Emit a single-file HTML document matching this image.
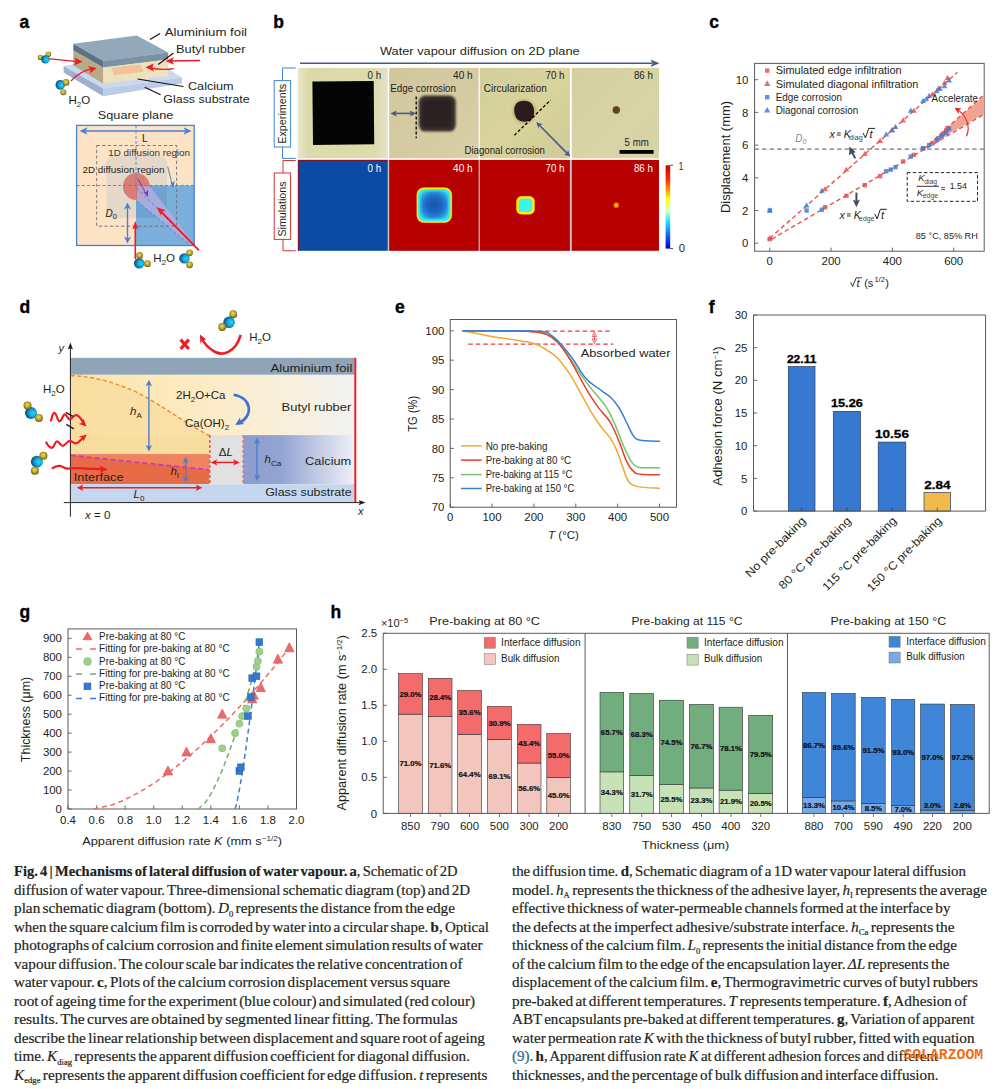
<!DOCTYPE html>
<html><head><meta charset="utf-8"><title>Fig. 4</title>
<style>html,body{margin:0;padding:0;background:#fff;overflow:hidden;width:1004px;height:1089px;} svg{display:block;} text{font-family:"Liberation Sans", sans-serif;}</style>
</head><body>
<svg width="1004" height="1089" viewBox="0 0 1004 1089">
<rect width="1004" height="1089" fill="#fff"/>
<defs>
<radialGradient id="gblue" cx="0.6" cy="0.5" r="0.62" fx="0.68" fy="0.52"><stop offset="0" stop-color="#20d8ff"/><stop offset="0.45" stop-color="#18a8e0"/><stop offset="1" stop-color="#0a3f6a"/></radialGradient>
<radialGradient id="gyel" cx="0.5" cy="0.45" r="0.62" fx="0.45" fy="0.38"><stop offset="0" stop-color="#ece060"/><stop offset="0.5" stop-color="#b8a82a"/><stop offset="1" stop-color="#54480a"/></radialGradient>
<g id="mol"><circle cx="5.5" cy="-5.5" r="3.4" fill="url(#gyel)"/><circle cx="5.5" cy="5.5" r="3.4" fill="url(#gyel)"/><circle cx="0" cy="0" r="5.2" fill="url(#gblue)"/></g>
<linearGradient id="ph1" x1="0" y1="0" x2="1" y2="0"><stop offset="0" stop-color="#e6e5cc"/><stop offset="0.12" stop-color="#dcdaaa"/><stop offset="0.85" stop-color="#dedcae"/><stop offset="1" stop-color="#e4e2c4"/></linearGradient>
<linearGradient id="ph2" x1="0" y1="0" x2="1" y2="1"><stop offset="0" stop-color="#d2c69c"/><stop offset="1" stop-color="#d8cfa8"/></linearGradient>
<linearGradient id="ph3" x1="0" y1="0" x2="1" y2="1"><stop offset="0" stop-color="#d2cf9c"/><stop offset="0.5" stop-color="#d9d39c"/><stop offset="1" stop-color="#d0cc98"/></linearGradient>
<linearGradient id="ph4" x1="0" y1="0" x2="1" y2="1"><stop offset="0" stop-color="#d3cf9e"/><stop offset="0.6" stop-color="#d8d4a6"/><stop offset="1" stop-color="#d6d3a6"/></linearGradient>
<filter id="blur1" x="-30%" y="-30%" width="160%" height="160%"><feGaussianBlur stdDeviation="1.3"/></filter>
<filter id="blur05" x="-30%" y="-30%" width="160%" height="160%"><feGaussianBlur stdDeviation="0.6"/></filter>
<filter id="blur03" x="-30%" y="-30%" width="160%" height="160%"><feGaussianBlur stdDeviation="0.5"/></filter>
<radialGradient id="sq40" cx="0.5" cy="0.5" r="0.6"><stop offset="0" stop-color="#1656ac"/><stop offset="0.5" stop-color="#1f68c4"/><stop offset="0.8" stop-color="#2a8ee0"/><stop offset="1" stop-color="#30c8f0"/></radialGradient>
<radialGradient id="dot86" cx="0.5" cy="0.5" r="0.5"><stop offset="0" stop-color="#ffe000"/><stop offset="0.6" stop-color="#ff8a00"/><stop offset="1" stop-color="#d02000"/></radialGradient>
<linearGradient id="cbar" x1="0" y1="0" x2="0" y2="1"><stop offset="0" stop-color="#d00000"/><stop offset="0.18" stop-color="#ff3000"/><stop offset="0.3" stop-color="#ffa000"/><stop offset="0.4" stop-color="#ffff00"/><stop offset="0.55" stop-color="#d0ffd0"/><stop offset="0.68" stop-color="#20e0f0"/><stop offset="0.85" stop-color="#1060ff"/><stop offset="1" stop-color="#0000c0"/></linearGradient>
<linearGradient id="rubberg" x1="0" y1="0" x2="1" y2="0"><stop offset="0" stop-color="#fde4aa"/><stop offset="0.5" stop-color="#fcebc6"/><stop offset="0.78" stop-color="#f8f0de"/><stop offset="1" stop-color="#f2f2f2"/></linearGradient>
<linearGradient id="rubberg2" x1="0" y1="0" x2="1" y2="0"><stop offset="0" stop-color="#f8dc9e"/><stop offset="1" stop-color="#f8e0aa"/></linearGradient>
<linearGradient id="cag" x1="0" y1="0" x2="1" y2="0"><stop offset="0" stop-color="#8b9ccd"/><stop offset="0.35" stop-color="#95a5d2"/><stop offset="1" stop-color="#eef0f7"/></linearGradient>
</defs>
<text x="19.6" y="27.7" font-size="17.5" font-weight="bold" fill="#000" stroke="#000" stroke-width="0.35">a</text>
<polygon points="63.60,66.10 140.00,52.00 182.00,77.50 103.20,88.60" fill="#c9d9ef" stroke="none" stroke-width="1"/>
<polygon points="63.60,66.10 103.20,88.60 103.20,96.20 63.60,72.40" fill="#9fb0cf" stroke="none" stroke-width="1"/>
<polygon points="103.20,88.60 182.00,77.50 182.00,83.40 103.20,96.20" fill="#bccce7" stroke="none" stroke-width="1"/>
<polygon points="73.30,43.70 136.80,35.50 168.20,52.60 103.20,60.90" fill="#94a8bc" stroke="none" stroke-width="1"/>
<polygon points="73.30,43.70 103.20,60.90 103.20,67.60 73.30,50.40" fill="#5d7184" stroke="none" stroke-width="1"/>
<polygon points="103.20,60.90 168.20,52.60 168.20,59.50 103.20,67.60" fill="#7c91a4" stroke="none" stroke-width="1"/>
<polygon points="73.30,50.40 103.20,67.60 103.20,83.60 73.30,65.50" fill="#b6aa87" stroke="none" stroke-width="1"/>
<polygon points="103.20,67.60 168.20,59.50 168.20,76.20 103.20,83.60" fill="#ece2bd" stroke="none" stroke-width="1"/>
<polygon points="112.00,68.00 140.20,65.20 142.80,71.20 114.60,74.60" fill="#f2c398" stroke="#f2c398" stroke-width="1.2" stroke-linejoin="round"/>
<line x1="150.00" y1="39.40" x2="160.00" y2="33.40" stroke="#111" stroke-width="1.2"/>
<line x1="158.20" y1="64.50" x2="173.50" y2="52.90" stroke="#111" stroke-width="1.2"/>
<line x1="137.60" y1="79.00" x2="183.50" y2="86.50" stroke="#111" stroke-width="1.2"/>
<line x1="144.70" y1="87.20" x2="160.60" y2="94.70" stroke="#111" stroke-width="1.2"/>
<text x="164.8" y="36.4" font-size="11.5" fill="#231f20" textLength="82.2" lengthAdjust="spacingAndGlyphs">Aluminium foil</text>
<text x="176" y="52.6" font-size="11.5" fill="#231f20" textLength="69.5" lengthAdjust="spacingAndGlyphs">Butyl rubber</text>
<text x="188" y="90.2" font-size="11.5" fill="#231f20" textLength="45.6" lengthAdjust="spacingAndGlyphs">Calcium</text>
<text x="163.3" y="103" font-size="11.5" fill="#231f20" textLength="86.4" lengthAdjust="spacingAndGlyphs">Glass substrate</text>
<text x="68.5" y="104.2" font-size="11.5" fill="#231f20">H<tspan font-size="8" dy="3">2</tspan><tspan dy="-3">O</tspan></text>
<path d="M46,58.6 C58,59 66,61 80,61.8" fill="none" stroke="#ee1c25" stroke-width="1.3"/>
<polygon points="82.50,61.80 74.50,57.60 75.80,61.50 74.20,65.20" fill="#ee1c25" stroke="none" stroke-width="1"/>
<path d="M71,81 C77,74 84,70 93.5,68.6" fill="none" stroke="#ee1c25" stroke-width="1.3"/>
<polygon points="96.50,68.00 88.00,66.20 90.50,69.60 90.00,73.40" fill="#ee1c25" stroke="none" stroke-width="1"/>
<path d="M200,60.5 C190,60.6 180,60.8 168,61" fill="none" stroke="#ee1c25" stroke-width="1.3"/>
<polygon points="165.50,61.00 174.00,57.20 172.20,61.00 174.00,64.80" fill="#ee1c25" stroke="none" stroke-width="1"/>
<path d="M173.8,68.6 C165,70.2 157,69.5 148.5,67.5" fill="none" stroke="#ee1c25" stroke-width="1.3"/>
<polygon points="145.50,67.20 153.50,63.40 152.30,67.60 154.00,71.40" fill="#ee1c25" stroke="none" stroke-width="1"/>
<circle cx="40.40" cy="57.40" r="2.60" fill="url(#gyel)"/><circle cx="48.40" cy="54.30" r="2.80" fill="url(#gyel)"/><circle cx="45.40" cy="59.40" r="4.20" fill="url(#gblue)"/>
<circle cx="60.30" cy="84.90" r="4.80" fill="url(#gblue)"/><circle cx="66.10" cy="82.40" r="3.30" fill="url(#gyel)"/><circle cx="63.30" cy="92.20" r="3.00" fill="url(#gyel)"/>
<text x="97.8" y="119" font-size="11.5" fill="#231f20" textLength="75.5" lengthAdjust="spacingAndGlyphs">Square plane</text>
<rect x="76.60" y="125.40" width="117.60" height="120.10" fill="#fde3c6" stroke="none" stroke-width="1"/>
<rect x="136.00" y="185.50" width="58.20" height="60.00" fill="#7aafdc" stroke="none" stroke-width="1"/>
<clipPath id="grc"><rect x="106.3" y="155.7" width="60.7" height="62.2" rx="7.5"/></clipPath><rect x="106.3" y="155.7" width="60.7" height="62.2" rx="7.5" fill="#e5d8c8"/>
<rect x="136" y="185.5" width="60" height="60" fill="#70a3d2" clip-path="url(#grc)"/>
<circle cx="136.30" cy="186.50" r="13.40" fill="#d5716a" stroke="none" stroke-width="1" fill-opacity="0.88"/>
<polygon points="137.50,185.50 149.90,186.50 194.40,244.60 189.10,244.20 136.80,200.70" fill="#b4aee0" stroke="none" stroke-width="1" fill-opacity="0.8"/>
<line x1="137.50" y1="201.50" x2="189.10" y2="243.80" stroke="#4a7fd3" stroke-width="0.8" stroke-dasharray="3,2.2"/>
<line x1="76.60" y1="185.50" x2="194.20" y2="185.50" stroke="#4a7fd3" stroke-width="0.9" stroke-dasharray="3,2.2"/>
<line x1="136.00" y1="125.40" x2="136.00" y2="185.50" stroke="#4a7fd3" stroke-width="0.9" stroke-dasharray="3,2.2"/>
<line x1="137.00" y1="188.00" x2="192.00" y2="244.00" stroke="#4a7fd3" stroke-width="0.8" stroke-dasharray="3,2.2"/>
<rect x="96.70" y="145.50" width="79.90" height="80.70" fill="none" stroke="#6d6d6d" stroke-width="0.9" stroke-dasharray="3.2,2.4"/>
<rect x="76.60" y="125.40" width="117.60" height="120.10" fill="none" stroke="#4a7fd3" stroke-width="1.3"/>
<line x1="82.00" y1="131.00" x2="189.00" y2="131.00" stroke="#4a7fd3" stroke-width="1.4"/>
<polygon points="79.50,131.00 87.50,127.30 85.50,131.00 87.50,134.70" fill="#4a7fd3" stroke="none" stroke-width="1"/>
<polygon points="191.50,131.00 183.50,127.30 185.50,131.00 183.50,134.70" fill="#4a7fd3" stroke="none" stroke-width="1"/>
<text x="142" y="142.1" font-size="11.5" fill="#231f20" textLength="5.8" lengthAdjust="spacingAndGlyphs">L</text>
<text x="108.2" y="155.5" font-size="9.2" fill="#333" textLength="81.8" lengthAdjust="spacingAndGlyphs">1D diffusion region</text>
<text x="82.5" y="172.7" font-size="9.2" fill="#231f20" textLength="82" lengthAdjust="spacingAndGlyphs">2D diffusion region</text>
<line x1="167.70" y1="166.70" x2="172.30" y2="184.50" stroke="#3a78d0" stroke-width="0.9"/>
<polygon points="173.30,188.00 170.20,181.50 172.50,183.00 174.80,180.60" fill="#3a78d0" stroke="none" stroke-width="1"/>
<line x1="138.00" y1="178.80" x2="146.50" y2="194.50" stroke="#6a3fb5" stroke-width="1"/>
<polygon points="147.80,197.00 143.20,191.50 146.00,192.60 148.20,189.60" fill="#6a3fb5" stroke="none" stroke-width="1"/>
<text x="105.5" y="217.4" font-size="10" font-style="italic" fill="#231f20">D<tspan font-size="7.5" dy="2" font-style="normal">0</tspan></text>
<line x1="127.50" y1="205.50" x2="127.50" y2="240.50" stroke="#4a7fd3" stroke-width="1.4"/>
<polygon points="127.50,202.50 123.90,209.50 127.50,207.50 131.10,209.50" fill="#4a7fd3" stroke="none" stroke-width="1"/>
<polygon points="127.50,243.50 123.90,236.50 127.50,238.50 131.10,236.50" fill="#4a7fd3" stroke="none" stroke-width="1"/>
<line x1="135.30" y1="259.00" x2="135.30" y2="226.00" stroke="#ee1c25" stroke-width="1.6"/>
<polygon points="135.30,221.00 132.30,229.50 135.30,227.50 138.30,229.50" fill="#ee1c25" stroke="none" stroke-width="1"/>
<line x1="199.00" y1="250.30" x2="160.00" y2="210.50" stroke="#ee1c25" stroke-width="1.8"/>
<polygon points="156.80,207.20 165.70,210.30 161.70,211.50 160.80,215.60" fill="#ee1c25" stroke="none" stroke-width="1"/>
<text x="153.2" y="262.4" font-size="11.5" fill="#231f20">H<tspan font-size="8" dy="3">2</tspan><tspan dy="-3">O</tspan></text>
<circle cx="139.20" cy="263.30" r="5.20" fill="url(#gblue)"/><circle cx="139.60" cy="255.50" r="3.40" fill="url(#gyel)"/><circle cx="147.40" cy="263.70" r="3.40" fill="url(#gyel)"/>
<circle cx="184.40" cy="258.40" r="5.20" fill="url(#gblue)"/><circle cx="189.60" cy="252.80" r="3.40" fill="url(#gyel)"/><circle cx="189.60" cy="264.80" r="3.40" fill="url(#gyel)"/>
<text x="273.2" y="27.6" font-size="17.5" font-weight="bold" fill="#000" stroke="#000" stroke-width="0.35">b</text>
<text x="380" y="55" font-size="11.5" fill="#231f20" textLength="199.7" lengthAdjust="spacingAndGlyphs">Water vapour diffusion on 2D plane</text>
<line x1="300.00" y1="63.30" x2="652.00" y2="63.30" stroke="#4a5b82" stroke-width="1.6"/>
<polygon points="659.50,63.30 650.50,59.60 652.50,63.30 650.50,67.00" fill="#4a5b82" stroke="none" stroke-width="1"/>
<rect x="297.90" y="67.90" width="89.80" height="90.40" fill="url(#ph1)" stroke="none" stroke-width="1"/>
<rect x="389.20" y="67.90" width="89.40" height="90.40" fill="url(#ph2)" stroke="none" stroke-width="1"/>
<rect x="479.80" y="67.90" width="90.10" height="90.40" fill="url(#ph3)" stroke="none" stroke-width="1"/>
<rect x="571.80" y="67.90" width="87.20" height="90.40" fill="url(#ph4)" stroke="none" stroke-width="1"/>
<polygon points="312.40,81.40 373.70,81.00 374.20,144.20 313.00,145.10" fill="#050505" stroke="none" stroke-width="1"/>
<rect x="418.8" y="95.6" width="37" height="36" rx="6.5" fill="#3a302c" filter="url(#blur1)"/>
<rect x="422" y="99" width="30" height="29" rx="5" fill="#2c2420" filter="url(#blur1)"/>
<ellipse cx="524.3" cy="111.6" rx="12" ry="12.5" fill="#9a7a48" fill-opacity="0.35" filter="url(#blur1)"/>
<path d="M516,104 C519,100 527,100 531,103 C535,107 535,115 532,119 C528,123 520,122 517,119 C514,115 513,108 516,104 Z" fill="#2c1a1c" filter="url(#blur05)"/>
<circle cx="616.3" cy="110" r="3.7" fill="#5e4226" filter="url(#blur05)"/>
<text x="367.5" y="79" font-size="10.2" fill="#231f20" textLength="13.6" lengthAdjust="spacingAndGlyphs">0 h</text>
<text x="453" y="79" font-size="10.2" fill="#231f20" textLength="19.7" lengthAdjust="spacingAndGlyphs">40 h</text>
<text x="545.5" y="78.6" font-size="10.2" fill="#231f20" textLength="18.9" lengthAdjust="spacingAndGlyphs">70 h</text>
<text x="633.9" y="78.6" font-size="10.2" fill="#231f20" textLength="19" lengthAdjust="spacingAndGlyphs">86 h</text>
<text x="390.3" y="92.2" font-size="10.2" fill="#231f20" textLength="65.7" lengthAdjust="spacingAndGlyphs">Edge corrosion</text>
<text x="483.8" y="92.4" font-size="10.2" fill="#231f20" textLength="63.1" lengthAdjust="spacingAndGlyphs">Circularization</text>
<text x="464.5" y="153.8" font-size="10.2" fill="#231f20" textLength="80.5" lengthAdjust="spacingAndGlyphs">Diagonal corrosion</text>
<text x="624.6" y="146.1" font-size="10.2" fill="#231f20" textLength="24.1" lengthAdjust="spacingAndGlyphs">5 mm</text>
<rect x="619.60" y="150.00" width="34.00" height="3.80" fill="#000" stroke="none" stroke-width="1"/>
<line x1="416.20" y1="96.50" x2="416.20" y2="138.20" stroke="#000" stroke-width="1.3" stroke-dasharray="3,2"/>
<line x1="393.00" y1="113.40" x2="413.50" y2="113.40" stroke="#4a5b82" stroke-width="1.6"/>
<polygon points="390.30,113.40 396.80,110.40 395.30,113.40 396.80,116.40" fill="#4a5b82" stroke="none" stroke-width="1"/>
<polygon points="416.20,113.40 409.70,110.40 411.20,113.40 409.70,116.40" fill="#4a5b82" stroke="none" stroke-width="1"/>
<line x1="514.40" y1="135.20" x2="550.60" y2="100.10" stroke="#000" stroke-width="1.3" stroke-dasharray="3,2"/>
<line x1="538.20" y1="124.00" x2="568.40" y2="154.60" stroke="#4a5b82" stroke-width="1.6"/>
<polygon points="536.30,122.00 538.30,128.80 539.20,125.30 542.80,124.40" fill="#4a5b82" stroke="none" stroke-width="1"/>
<polygon points="570.30,156.60 563.50,154.60 567.00,153.70 568.00,150.10" fill="#4a5b82" stroke="none" stroke-width="1"/>
<rect x="387.00" y="159.90" width="186.00" height="90.90" fill="#c4c4c4" stroke="none" stroke-width="1"/>
<rect x="297.90" y="159.90" width="89.80" height="90.90" fill="#0b4ba6" stroke="none" stroke-width="1"/>
<path d="M298.4,250.8 V160.4 H387.7" fill="none" stroke="#8a1020" stroke-width="1"/>
<rect x="389.20" y="159.90" width="89.40" height="90.90" fill="#b70000" stroke="none" stroke-width="1"/>
<rect x="479.80" y="159.90" width="90.10" height="90.90" fill="#b70000" stroke="none" stroke-width="1"/>
<rect x="571.80" y="159.90" width="87.20" height="90.90" fill="#b70000" stroke="none" stroke-width="1"/>
<rect x="416.4" y="187.2" width="35.8" height="35.8" rx="7.5" fill="#ff7000" filter="url(#blur05)"/>
<rect x="416.9" y="187.7" width="34.8" height="34.8" rx="7" fill="#ffee00" filter="url(#blur03)"/>
<rect x="418.1" y="188.9" width="32.4" height="32.4" rx="6" fill="#38f4f0" filter="url(#blur03)"/>
<rect x="420.3" y="191.1" width="28" height="28" rx="5" fill="url(#sq40)" filter="url(#blur1)"/>
<rect x="516.2" y="196.1" width="18.6" height="18.5" rx="5.2" fill="#ff8000" filter="url(#blur03)"/>
<rect x="516.6" y="196.5" width="17.8" height="17.7" rx="5" fill="#fff000" filter="url(#blur03)"/>
<rect x="518.7" y="198.6" width="13.6" height="13.5" rx="3.6" fill="#40f2ee" filter="url(#blur03)"/>
<circle cx="616.3" cy="205.2" r="3.1" fill="url(#dot86)"/>
<text x="367.5" y="171.9" font-size="10.2" fill="#fff" textLength="13.6" lengthAdjust="spacingAndGlyphs">0 h</text>
<text x="453" y="171.9" font-size="10.2" fill="#fff" textLength="19.7" lengthAdjust="spacingAndGlyphs">40 h</text>
<text x="545.5" y="171.9" font-size="10.2" fill="#fff" textLength="18.9" lengthAdjust="spacingAndGlyphs">70 h</text>
<text x="633.9" y="171.9" font-size="10.2" fill="#fff" textLength="19" lengthAdjust="spacingAndGlyphs">86 h</text>
<rect x="665.60" y="165.30" width="4.60" height="83.30" fill="url(#cbar)" stroke="none" stroke-width="1"/>
<path d="M670.2,165.3 H673 M670.2,248.6 H673" fill="none" stroke="#231f20" stroke-width="0.8"/>
<text x="678.8" y="169.6" font-size="10.2" fill="#231f20" textLength="4.5" lengthAdjust="spacingAndGlyphs">1</text>
<text x="678.8" y="252.2" font-size="10.2" fill="#231f20" textLength="6.3" lengthAdjust="spacingAndGlyphs">0</text>
<path d="M295.7,68 H282.5 V158.4 H295.7" fill="none" stroke="#3b86d8" stroke-width="1"/>
<rect x="274.20" y="80.60" width="16.40" height="66.40" fill="#fff" stroke="#3b86d8" stroke-width="1"/>
<text transform="translate(286.3,113.8) rotate(-90)" font-size="10.2" text-anchor="middle" fill="#231f20" textLength="60" lengthAdjust="spacingAndGlyphs">Experiments</text>
<path d="M295.7,160.5 H283 V250.8 H295.7" fill="none" stroke="#d6333b" stroke-width="1"/>
<rect x="274.20" y="173.00" width="16.40" height="66.40" fill="#fff" stroke="#d6333b" stroke-width="1"/>
<text transform="translate(286.3,209) rotate(-90)" font-size="10.2" text-anchor="middle" fill="#231f20" textLength="55" lengthAdjust="spacingAndGlyphs">Simulations</text>
<text x="709.2" y="27.9" font-size="17.5" font-weight="bold" fill="#000" stroke="#000" stroke-width="0.35">c</text>
<rect x="754.60" y="63.40" width="229.60" height="187.80" fill="none" stroke="#5a5a5a" stroke-width="1"/>
<line x1="754.60" y1="243.20" x2="758.20" y2="243.20" stroke="#5a5a5a" stroke-width="0.9"/>
<text x="748.5" y="247.29999999999998" font-size="10.6" text-anchor="end" fill="#231f20" textLength="6.37" lengthAdjust="spacingAndGlyphs">0</text>
<line x1="754.60" y1="210.50" x2="758.20" y2="210.50" stroke="#5a5a5a" stroke-width="0.9"/>
<text x="748.5" y="214.6" font-size="10.6" text-anchor="end" fill="#231f20" textLength="6.37" lengthAdjust="spacingAndGlyphs">2</text>
<line x1="754.60" y1="177.80" x2="758.20" y2="177.80" stroke="#5a5a5a" stroke-width="0.9"/>
<text x="748.5" y="181.89999999999998" font-size="10.6" text-anchor="end" fill="#231f20" textLength="6.37" lengthAdjust="spacingAndGlyphs">4</text>
<line x1="754.60" y1="145.10" x2="758.20" y2="145.10" stroke="#5a5a5a" stroke-width="0.9"/>
<text x="748.5" y="149.19999999999996" font-size="10.6" text-anchor="end" fill="#231f20" textLength="6.37" lengthAdjust="spacingAndGlyphs">6</text>
<line x1="754.60" y1="112.40" x2="758.20" y2="112.40" stroke="#5a5a5a" stroke-width="0.9"/>
<text x="748.5" y="116.49999999999997" font-size="10.6" text-anchor="end" fill="#231f20" textLength="6.37" lengthAdjust="spacingAndGlyphs">8</text>
<line x1="754.60" y1="79.70" x2="758.20" y2="79.70" stroke="#5a5a5a" stroke-width="0.9"/>
<text x="748.5" y="83.79999999999998" font-size="10.6" text-anchor="end" fill="#231f20" textLength="12.73" lengthAdjust="spacingAndGlyphs">10</text>
<line x1="769.80" y1="251.20" x2="769.80" y2="247.60" stroke="#5a5a5a" stroke-width="0.9"/>
<text x="769.8" y="264.6" font-size="10.6" text-anchor="middle" fill="#231f20" textLength="6.37" lengthAdjust="spacingAndGlyphs">0</text>
<line x1="831.10" y1="251.20" x2="831.10" y2="247.60" stroke="#5a5a5a" stroke-width="0.9"/>
<text x="831.0999999999999" y="264.6" font-size="10.6" text-anchor="middle" fill="#231f20" textLength="19.1" lengthAdjust="spacingAndGlyphs">200</text>
<line x1="892.40" y1="251.20" x2="892.40" y2="247.60" stroke="#5a5a5a" stroke-width="0.9"/>
<text x="892.4" y="264.6" font-size="10.6" text-anchor="middle" fill="#231f20" textLength="19.1" lengthAdjust="spacingAndGlyphs">400</text>
<line x1="953.70" y1="251.20" x2="953.70" y2="247.60" stroke="#5a5a5a" stroke-width="0.9"/>
<text x="953.6999999999999" y="264.6" font-size="10.6" text-anchor="middle" fill="#231f20" textLength="19.1" lengthAdjust="spacingAndGlyphs">600</text>
<text transform="translate(729.5,157) rotate(-90)" font-size="12.5" text-anchor="middle" fill="#231f20" textLength="112" lengthAdjust="spacingAndGlyphs">Displacement (mm)</text>
<path d="M850.8,282.2 L852.6,286.6 L856.2,277.8 H862" fill="none" stroke="#231f20" stroke-width="0.9"/>
<text x="856.4" y="286.5" font-size="11" font-style="italic" fill="#231f20">t</text>
<text x="864.2" y="286.5" font-size="11" fill="#231f20">(s</text>
<text x="874.4" y="281.6" font-size="7.6" fill="#231f20">1/2</text>
<text x="885.2" y="286.5" font-size="11" fill="#231f20">)</text>
<line x1="754.60" y1="149.10" x2="984.20" y2="149.10" stroke="#777" stroke-width="1.1" stroke-dasharray="4.5,3"/>
<text x="795.2" y="142.3" font-size="10" font-style="italic" fill="#888">D<tspan font-size="7" dy="2">0</tspan></text>
<polygon points="925.00,147.20 984.20,95.50 984.20,113.80" fill="#f3a394" stroke="none" stroke-width="1"/>
<line x1="769.80" y1="238.29" x2="957.50" y2="72.20" stroke="#e8534f" stroke-width="1.4" stroke-dasharray="4.5,3"/>
<line x1="923.50" y1="149.20" x2="984.20" y2="94.50" stroke="#e8534f" stroke-width="1.4" stroke-dasharray="4.5,3"/>
<line x1="771.80" y1="239.11" x2="984.20" y2="114.20" stroke="#e8534f" stroke-width="1.4" stroke-dasharray="4.5,3"/>
<rect x="767.60" y="236.91" width="4.40" height="4.40" fill="#e8534f" stroke="none" stroke-width="1" fill-opacity="0.85"/>
<rect x="822.77" y="205.03" width="4.40" height="4.40" fill="#e8534f" stroke="none" stroke-width="1" fill-opacity="0.85"/>
<rect x="844.22" y="193.59" width="4.40" height="4.40" fill="#e8534f" stroke="none" stroke-width="1" fill-opacity="0.85"/>
<rect x="862.61" y="182.96" width="4.40" height="4.40" fill="#e8534f" stroke="none" stroke-width="1" fill-opacity="0.85"/>
<rect x="877.94" y="173.97" width="4.40" height="4.40" fill="#e8534f" stroke="none" stroke-width="1" fill-opacity="0.85"/>
<rect x="900.93" y="159.25" width="4.40" height="4.40" fill="#e8534f" stroke="none" stroke-width="1" fill-opacity="0.85"/>
<rect x="911.65" y="152.71" width="4.40" height="4.40" fill="#e8534f" stroke="none" stroke-width="1" fill-opacity="0.85"/>
<rect x="920.85" y="146.17" width="4.40" height="4.40" fill="#e8534f" stroke="none" stroke-width="1" fill-opacity="0.85"/>
<rect x="930.04" y="141.26" width="4.40" height="4.40" fill="#e8534f" stroke="none" stroke-width="1" fill-opacity="0.85"/>
<rect x="936.17" y="136.36" width="4.40" height="4.40" fill="#e8534f" stroke="none" stroke-width="1" fill-opacity="0.85"/>
<rect x="940.77" y="132.27" width="4.40" height="4.40" fill="#e8534f" stroke="none" stroke-width="1" fill-opacity="0.85"/>
<rect x="943.84" y="128.19" width="4.40" height="4.40" fill="#e8534f" stroke="none" stroke-width="1" fill-opacity="0.85"/>
<rect x="945.37" y="125.73" width="4.40" height="4.40" fill="#e8534f" stroke="none" stroke-width="1" fill-opacity="0.85"/>
<polygon points="769.80,235.06 772.70,240.28 766.90,240.28" fill="#e8534f" stroke="none" stroke-width="1" fill-opacity="0.85"/>
<polygon points="824.97,186.01 827.87,191.23 822.07,191.23" fill="#e8534f" stroke="none" stroke-width="1" fill-opacity="0.85"/>
<polygon points="846.42,166.39 849.32,171.61 843.52,171.61" fill="#e8534f" stroke="none" stroke-width="1" fill-opacity="0.85"/>
<polygon points="864.81,150.86 867.71,156.08 861.91,156.08" fill="#e8534f" stroke="none" stroke-width="1" fill-opacity="0.85"/>
<polygon points="880.14,137.78 883.04,143.00 877.24,143.00" fill="#e8534f" stroke="none" stroke-width="1" fill-opacity="0.85"/>
<polygon points="892.40,127.15 895.30,132.37 889.50,132.37" fill="#e8534f" stroke="none" stroke-width="1" fill-opacity="0.85"/>
<polygon points="903.13,117.34 906.03,122.56 900.23,122.56" fill="#e8534f" stroke="none" stroke-width="1" fill-opacity="0.85"/>
<polygon points="913.86,107.53 916.75,112.75 910.96,112.75" fill="#e8534f" stroke="none" stroke-width="1" fill-opacity="0.85"/>
<polygon points="932.24,91.18 935.14,96.40 929.34,96.40" fill="#e8534f" stroke="none" stroke-width="1" fill-opacity="0.85"/>
<polygon points="938.38,85.46 941.27,90.68 935.48,90.68" fill="#e8534f" stroke="none" stroke-width="1" fill-opacity="0.85"/>
<polygon points="944.50,79.73 947.40,84.95 941.60,84.95" fill="#e8534f" stroke="none" stroke-width="1" fill-opacity="0.85"/>
<polygon points="947.57,74.83 950.47,80.05 944.67,80.05" fill="#e8534f" stroke="none" stroke-width="1" fill-opacity="0.85"/>
<rect x="767.60" y="208.30" width="4.40" height="4.40" fill="#3f7fd6" stroke="none" stroke-width="1" fill-opacity="0.85"/>
<rect x="804.38" y="208.30" width="4.40" height="4.40" fill="#3f7fd6" stroke="none" stroke-width="1" fill-opacity="0.85"/>
<rect x="819.70" y="207.48" width="4.40" height="4.40" fill="#3f7fd6" stroke="none" stroke-width="1" fill-opacity="0.85"/>
<rect x="884.07" y="169.06" width="4.40" height="4.40" fill="#3f7fd6" stroke="none" stroke-width="1" fill-opacity="0.85"/>
<rect x="888.67" y="167.43" width="4.40" height="4.40" fill="#3f7fd6" stroke="none" stroke-width="1" fill-opacity="0.85"/>
<rect x="893.26" y="164.97" width="4.40" height="4.40" fill="#3f7fd6" stroke="none" stroke-width="1" fill-opacity="0.85"/>
<rect x="908.59" y="154.34" width="4.40" height="4.40" fill="#3f7fd6" stroke="none" stroke-width="1" fill-opacity="0.85"/>
<rect x="920.85" y="146.17" width="4.40" height="4.40" fill="#3f7fd6" stroke="none" stroke-width="1" fill-opacity="0.85"/>
<rect x="926.98" y="142.90" width="4.40" height="4.40" fill="#3f7fd6" stroke="none" stroke-width="1" fill-opacity="0.85"/>
<rect x="934.64" y="138.00" width="4.40" height="4.40" fill="#3f7fd6" stroke="none" stroke-width="1" fill-opacity="0.85"/>
<rect x="939.24" y="133.91" width="4.40" height="4.40" fill="#3f7fd6" stroke="none" stroke-width="1" fill-opacity="0.85"/>
<rect x="943.84" y="130.64" width="4.40" height="4.40" fill="#3f7fd6" stroke="none" stroke-width="1" fill-opacity="0.85"/>
<rect x="946.90" y="126.55" width="4.40" height="4.40" fill="#3f7fd6" stroke="none" stroke-width="1" fill-opacity="0.85"/>
<polygon points="769.80,207.26 772.70,212.48 766.90,212.48" fill="#3f7fd6" stroke="none" stroke-width="1" fill-opacity="0.85"/>
<polygon points="806.58,202.36 809.48,207.58 803.68,207.58" fill="#3f7fd6" stroke="none" stroke-width="1" fill-opacity="0.85"/>
<polygon points="821.90,187.64 824.80,192.86 819.00,192.86" fill="#3f7fd6" stroke="none" stroke-width="1" fill-opacity="0.85"/>
<polygon points="886.27,131.24 889.17,136.46 883.37,136.46" fill="#3f7fd6" stroke="none" stroke-width="1" fill-opacity="0.85"/>
<polygon points="891.79,127.15 894.69,132.37 888.89,132.37" fill="#3f7fd6" stroke="none" stroke-width="1" fill-opacity="0.85"/>
<polygon points="895.46,123.88 898.36,129.10 892.56,129.10" fill="#3f7fd6" stroke="none" stroke-width="1" fill-opacity="0.85"/>
<polygon points="910.79,107.53 913.69,112.75 907.89,112.75" fill="#3f7fd6" stroke="none" stroke-width="1" fill-opacity="0.85"/>
<polygon points="923.05,97.72 925.95,102.94 920.15,102.94" fill="#3f7fd6" stroke="none" stroke-width="1" fill-opacity="0.85"/>
<polygon points="926.12,96.08 929.01,101.30 923.22,101.30" fill="#3f7fd6" stroke="none" stroke-width="1" fill-opacity="0.85"/>
<polygon points="929.18,92.81 932.08,98.03 926.28,98.03" fill="#3f7fd6" stroke="none" stroke-width="1" fill-opacity="0.85"/>
<polygon points="936.84,87.91 939.74,93.13 933.94,93.13" fill="#3f7fd6" stroke="none" stroke-width="1" fill-opacity="0.85"/>
<polygon points="939.91,85.46 942.81,90.68 937.01,90.68" fill="#3f7fd6" stroke="none" stroke-width="1" fill-opacity="0.85"/>
<polygon points="944.50,83.00 947.40,88.22 941.60,88.22" fill="#3f7fd6" stroke="none" stroke-width="1" fill-opacity="0.85"/>
<polygon points="949.10,77.28 952.00,82.50 946.20,82.50" fill="#3f7fd6" stroke="none" stroke-width="1" fill-opacity="0.85"/>
<rect x="765.00" y="68.40" width="4.40" height="4.40" fill="#e8534f" stroke="none" stroke-width="1" fill-opacity="0.85"/>
<polygon points="767.20,80.34 770.30,85.92 764.10,85.92" fill="#e8534f" stroke="none" stroke-width="1" fill-opacity="0.85"/>
<rect x="765.00" y="95.00" width="4.40" height="4.40" fill="#3f7fd6" stroke="none" stroke-width="1" fill-opacity="0.85"/>
<polygon points="767.20,107.04 770.30,112.62 764.10,112.62" fill="#3f7fd6" stroke="none" stroke-width="1" fill-opacity="0.85"/>
<text x="775.7" y="74.4" font-size="10.2" fill="#231f20" textLength="126" lengthAdjust="spacingAndGlyphs">Simulated edge infiltration</text>
<text x="775.7" y="87.6" font-size="10.2" fill="#231f20" textLength="142.6" lengthAdjust="spacingAndGlyphs">Simulated diagonal infiltration</text>
<text x="775.7" y="101" font-size="10.2" fill="#231f20" textLength="66.3" lengthAdjust="spacingAndGlyphs">Edge corrosion</text>
<text x="775.7" y="114.3" font-size="10.2" fill="#231f20" textLength="82.5" lengthAdjust="spacingAndGlyphs">Diagonal corrosion</text>
<text x="931.6" y="102" font-size="10.2" fill="#231f20" textLength="46.4" lengthAdjust="spacingAndGlyphs">Accelerate</text>
<path d="M966.5,136.3 C971,126 966,115 957.2,109.6" fill="none" stroke="#ee1c25" stroke-width="1.1"/>
<polygon points="954.60,107.80 961.80,108.40 958.60,110.60 958.60,114.20" fill="#ee1c25" stroke="none" stroke-width="1"/>
<text x="829.5" y="137.6" font-size="10.8" font-style="italic" fill="#231f20">x</text>
<rect x="836.90" y="132.40" width="3.80" height="1.10" fill="#444" stroke="none" stroke-width="1"/>
<rect x="836.90" y="134.50" width="3.80" height="1.10" fill="#444" stroke="none" stroke-width="1"/>
<text x="843.7" y="137.6" font-size="10.8" font-style="italic" fill="#231f20">K</text>
<text x="849.1" y="140.0" font-size="7.4" fill="#444" textLength="13.6" lengthAdjust="spacingAndGlyphs">diag</text>
<path d="M863.10,133.00 L865.50,138.00 L868.70,128.40 H875.10" fill="none" stroke="#231f20" stroke-width="1.0"/>
<text x="869.5" y="137.6" font-size="11" font-style="italic" fill="#231f20">t</text>
<text x="839.5" y="218.5" font-size="10.8" font-style="italic" fill="#231f20">x</text>
<rect x="846.90" y="213.30" width="3.80" height="1.10" fill="#444" stroke="none" stroke-width="1"/>
<rect x="846.90" y="215.40" width="3.80" height="1.10" fill="#444" stroke="none" stroke-width="1"/>
<text x="853.7" y="218.5" font-size="10.8" font-style="italic" fill="#231f20">K</text>
<text x="859.1" y="220.9" font-size="7.4" fill="#444" textLength="15.2" lengthAdjust="spacingAndGlyphs">edge</text>
<path d="M874.70,213.90 L877.10,218.90 L880.30,209.30 H886.70" fill="none" stroke="#231f20" stroke-width="1.0"/>
<text x="881.1" y="218.5" font-size="11" font-style="italic" fill="#231f20">t</text>
<line x1="855.20" y1="158.40" x2="851.80" y2="151.60" stroke="#3e4a5e" stroke-width="2.0"/>
<polygon points="849.40,146.60 849.20,155.40 852.20,153.00 855.80,152.20" fill="#3e4a5e" stroke="none" stroke-width="1"/>
<line x1="856.40" y1="192.60" x2="856.40" y2="202.00" stroke="#3e4a5e" stroke-width="2.0"/>
<polygon points="856.40,207.20 852.80,199.40 856.40,201.20 860.00,199.40" fill="#3e4a5e" stroke="none" stroke-width="1"/>
<rect x="907.20" y="172.60" width="70.30" height="28.70" fill="none" stroke="#231f20" stroke-width="1.0" stroke-dasharray="3.4,2.2"/>
<text x="918.2" y="180.7" font-size="9.6" font-style="italic" fill="#231f20">K</text>
<text x="924.2" y="183.8" font-size="7.2" fill="#444" textLength="13" lengthAdjust="spacingAndGlyphs">diag</text>
<line x1="916.60" y1="186.30" x2="939.00" y2="186.30" stroke="#231f20" stroke-width="0.9"/>
<text x="916.8" y="195.5" font-size="9.6" font-style="italic" fill="#231f20">K</text>
<text x="922.8" y="198.2" font-size="7.2" fill="#444" textLength="15.2" lengthAdjust="spacingAndGlyphs">edge</text>
<rect x="941.20" y="187.10" width="3.80" height="1.00" fill="#555" stroke="none" stroke-width="1"/>
<rect x="941.20" y="189.10" width="3.80" height="1.00" fill="#555" stroke="none" stroke-width="1"/>
<text x="949.7" y="188.7" font-size="9.6" fill="#231f20" textLength="17.1" lengthAdjust="spacingAndGlyphs">1.54</text>
<text x="915.8" y="238.5" font-size="9.6" fill="#231f20" textLength="62" lengthAdjust="spacingAndGlyphs">85 °C, 85% RH</text>
<text x="19.4" y="312.8" font-size="17.5" font-weight="bold" fill="#000" stroke="#000" stroke-width="0.35">d</text>
<rect x="70.40" y="357.80" width="284.00" height="17.00" fill="#8fa4b6" stroke="none" stroke-width="1"/>
<rect x="70.40" y="374.80" width="284.00" height="60.40" fill="url(#rubberg)" stroke="none" stroke-width="1"/>
<rect x="70.40" y="435.10" width="139.00" height="19.20" fill="url(#rubberg2)" stroke="none" stroke-width="1"/>
<path d="M70.8,375.7 C95,376 125,385 146.5,397.6 C170,411 190,426 209.2,435.5 L209.2,454.3 L70.4,454.3 Z" fill="#f8dc9e" stroke="none" stroke-width="0" fill-opacity="0.75"/>
<path d="M70.8,375.7 C95,376 125,385 146.5,397.6 C170,411 190,426 209.2,435.5" fill="none" stroke="#ef8a2e" stroke-width="1.4" stroke-dasharray="4,2.5"/>
<rect x="70.40" y="454.30" width="139.00" height="29.90" fill="#e86b48" stroke="none" stroke-width="1"/>
<path d="M70.4,454.3 H209.2 V469.8 L70.8,455.4 Z" fill="#f0835f" stroke="none" stroke-width="1"/>
<line x1="70.80" y1="455.40" x2="209.20" y2="469.80" stroke="#c83cb8" stroke-width="1.8" stroke-dasharray="5,3"/>
<rect x="209.80" y="435.10" width="33.50" height="49.20" fill="#e1e1e1" stroke="none" stroke-width="1"/>
<line x1="209.80" y1="435.10" x2="209.80" y2="484.30" stroke="#e8604f" stroke-width="1.6" stroke-dasharray="3,2"/>
<line x1="243.30" y1="435.10" x2="243.30" y2="484.30" stroke="#e8604f" stroke-width="1.6" stroke-dasharray="3,2"/>
<rect x="243.30" y="435.10" width="111.00" height="49.20" fill="url(#cag)" stroke="none" stroke-width="1"/>
<rect x="70.40" y="484.30" width="284.00" height="18.00" fill="#c5d7ee" stroke="none" stroke-width="1"/>
<line x1="355.30" y1="357.80" x2="355.30" y2="502.20" stroke="#ee1c25" stroke-width="2"/>
<line x1="70.40" y1="346.00" x2="70.40" y2="516.60" stroke="#231f20" stroke-width="1"/>
<polygon points="70.40,342.60 67.80,349.50 70.40,348.20 73.00,349.50" fill="#231f20" stroke="none" stroke-width="1"/>
<line x1="63.80" y1="502.60" x2="362.00" y2="502.60" stroke="#231f20" stroke-width="1"/>
<polygon points="365.60,502.60 358.70,500.00 360.00,502.60 358.70,505.20" fill="#231f20" stroke="none" stroke-width="1"/>
<rect x="66.20" y="414.20" width="8.40" height="11.20" fill="#fff" stroke="none" stroke-width="1" fill-opacity="0.0"/>
<text x="58.4" y="352.2" font-size="11" font-style="italic" fill="#231f20">y</text>
<text x="358" y="515.2" font-size="11" font-style="italic" fill="#231f20">x</text>
<text x="85.1" y="518.6" font-size="11.5" fill="#231f20"><tspan font-style="italic">x</tspan> = 0</text>
<text x="270.6" y="371.8" font-size="11.5" fill="#231f20" textLength="81.7" lengthAdjust="spacingAndGlyphs">Aluminium foil</text>
<text x="281.6" y="410.6" font-size="11.5" fill="#231f20" textLength="69.7" lengthAdjust="spacingAndGlyphs">Butyl rubber</text>
<text x="305" y="465.4" font-size="11.5" fill="#231f20" textLength="46.3" lengthAdjust="spacingAndGlyphs">Calcium</text>
<text x="265.2" y="496.3" font-size="11.5" fill="#231f20" textLength="86.5" lengthAdjust="spacingAndGlyphs">Glass substrate</text>
<text x="73.8" y="480.7" font-size="11.5" fill="#231f20" textLength="49.8" lengthAdjust="spacingAndGlyphs">Interface</text>
<text x="42.9" y="392.6" font-size="11.5" fill="#231f20">H<tspan font-size="8" dy="3">2</tspan><tspan dy="-3">O</tspan></text>
<text x="176" y="398.6" font-size="11.5" fill="#231f20">2H<tspan font-size="8" dy="3">2</tspan><tspan dy="-3">O+Ca</tspan></text>
<text x="185" y="426.5" font-size="11.5" fill="#231f20">Ca(OH)<tspan font-size="8" dy="3">2</tspan></text>
<text x="249.3" y="340.9" font-size="11.5" fill="#231f20">H<tspan font-size="8" dy="3">2</tspan><tspan dy="-3">O</tspan></text>
<text x="130.1" y="414.5" font-size="11.5" fill="#231f20"><tspan font-style="italic">h</tspan><tspan font-size="8" dy="3">A</tspan></text>
<text x="170.4" y="474.7" font-size="11.5" fill="#231f20"><tspan font-style="italic">h</tspan><tspan font-size="8" dy="3">I</tspan></text>
<text x="264.6" y="463.4" font-size="11.5" fill="#231f20"><tspan font-style="italic">h</tspan><tspan font-size="8" dy="3">Ca</tspan></text>
<text x="218.8" y="456.4" font-size="11.5" fill="#231f20">Δ<tspan font-style="italic">L</tspan></text>
<text x="133.5" y="497.6" font-size="11.5" fill="#231f20"><tspan font-style="italic">L</tspan><tspan font-size="8" dy="3">0</tspan></text>
<line x1="148.90" y1="382.70" x2="148.90" y2="448.40" stroke="#4a7fd3" stroke-width="1.4"/>
<polygon points="148.90,379.70 145.70,386.20 148.90,384.70 152.10,386.20" fill="#4a7fd3" stroke="none" stroke-width="1"/>
<polygon points="148.90,451.40 145.70,444.90 148.90,446.40 152.10,444.90" fill="#4a7fd3" stroke="none" stroke-width="1"/>
<line x1="185.70" y1="459.80" x2="185.70" y2="479.70" stroke="#4a7fd3" stroke-width="1.4"/>
<polygon points="185.70,456.80 182.50,463.30 185.70,461.80 188.90,463.30" fill="#4a7fd3" stroke="none" stroke-width="1"/>
<polygon points="185.70,482.70 182.50,476.20 185.70,477.70 188.90,476.20" fill="#4a7fd3" stroke="none" stroke-width="1"/>
<line x1="257.00" y1="440.50" x2="257.00" y2="478.00" stroke="#4a7fd3" stroke-width="1.4"/>
<polygon points="257.00,437.50 253.80,444.00 257.00,442.50 260.20,444.00" fill="#4a7fd3" stroke="none" stroke-width="1"/>
<polygon points="257.00,481.00 253.80,474.50 257.00,476.00 260.20,474.50" fill="#4a7fd3" stroke="none" stroke-width="1"/>
<line x1="213.80" y1="462.40" x2="236.70" y2="462.40" stroke="#ee1c25" stroke-width="1.4"/>
<polygon points="210.80,462.40 217.30,459.20 215.80,462.40 217.30,465.60" fill="#ee1c25" stroke="none" stroke-width="1"/>
<polygon points="239.70,462.40 233.20,459.20 234.70,462.40 233.20,465.60" fill="#ee1c25" stroke="none" stroke-width="1"/>
<line x1="79.80" y1="487.70" x2="199.30" y2="487.70" stroke="#ee1c25" stroke-width="1.4"/>
<polygon points="76.80,487.70 83.30,484.50 81.80,487.70 83.30,490.90" fill="#ee1c25" stroke="none" stroke-width="1"/>
<polygon points="202.30,487.70 195.80,484.50 197.30,487.70 195.80,490.90" fill="#ee1c25" stroke="none" stroke-width="1"/>
<path d="M233.7,394.7 C252,398 254,416 238.5,423.5" fill="none" stroke="#3a73d0" stroke-width="2.6"/>
<polygon points="235.20,425.00 240.00,417.50 240.50,421.80 244.50,424.00" fill="#3a73d0" stroke="none" stroke-width="1"/>
<path d="M50.9,421.4 C52,416 53.2,412.6 54.6,412.9 C56.4,413.3 57.6,421.6 59.8,421.4 C61.8,421.2 62.6,414.6 64.8,414.4 C67,414.2 67.4,419.6 69.8,419.4 C72.4,419.2 73,414.6 76.4,415.2 C79.6,415.8 81.6,419.6 83.6,423.2" fill="none" stroke="#ee1c25" stroke-width="2.2"/>
<polygon points="86.60,426.40 78.80,424.00 82.60,422.40 83.20,418.20" fill="#ee1c25" stroke="none" stroke-width="1"/>
<path d="M45.9,441.8 C47.6,445.2 49.6,448 51.9,447.8 C54.4,447.6 54.8,441.4 56.9,441.3 C59.2,441.2 60.4,445.8 62.8,445.8 C65.4,445.8 67,440.8 69.8,440.8 C72.4,440.8 73.4,443.6 75.8,443.3 C78.8,443 81,439.6 83.6,437.2" fill="none" stroke="#ee1c25" stroke-width="2.2"/>
<polygon points="86.80,434.60 83.40,441.60 82.60,437.60 78.60,436.80" fill="#ee1c25" stroke="none" stroke-width="1"/>
<path d="M51.9,468.7 C54.6,466.6 57.2,465.6 59.8,465.9 C62.6,466.2 64.8,468.8 67.8,468.7 C71,468.6 73.4,467.8 77.8,468.2 C86,468.8 95,469.2 102.6,469.2" fill="none" stroke="#ee1c25" stroke-width="2.2"/>
<polygon points="107.80,469.20 99.60,465.40 101.60,469.20 99.60,473.00" fill="#ee1c25" stroke="none" stroke-width="1"/>
<line x1="65.80" y1="412.40" x2="72.80" y2="416.40" stroke="#231f20" stroke-width="1.3"/>
<line x1="66.30" y1="424.40" x2="73.80" y2="428.90" stroke="#231f20" stroke-width="1.3"/>
<path d="M180.6,339.6 L188.8,349 M188.8,339.6 L180.6,349" fill="none" stroke="#ee1c25" stroke-width="3.2"/>
<path d="M240.7,334.9 C236,352 222,358 212,350 C206,346 203,341 201.5,338" fill="none" stroke="#ee1c25" stroke-width="2.6"/>
<polygon points="199.90,334.60 206.40,339.50 202.20,340.20 200.40,344.00" fill="#ee1c25" stroke="none" stroke-width="1"/>
<circle cx="229.10" cy="322.30" r="5.80" fill="url(#gblue)"/><circle cx="233.30" cy="314.20" r="3.90" fill="url(#gyel)"/><circle cx="222.20" cy="327.00" r="3.90" fill="url(#gyel)"/>
<circle cx="31.00" cy="413.00" r="6.00" fill="url(#gblue)"/><circle cx="27.50" cy="405.50" r="4.00" fill="url(#gyel)"/><circle cx="38.90" cy="417.90" r="4.00" fill="url(#gyel)"/>
<circle cx="36.90" cy="461.70" r="6.00" fill="url(#gblue)"/><circle cx="43.40" cy="455.80" r="4.00" fill="url(#gyel)"/><circle cx="34.90" cy="470.70" r="4.00" fill="url(#gyel)"/>
<text x="395.0" y="312.9" font-size="17.5" font-weight="bold" fill="#000" stroke="#000" stroke-width="0.35">e</text>
<rect x="450.20" y="319.50" width="226.30" height="187.70" fill="none" stroke="#5a5a5a" stroke-width="1"/>
<line x1="450.20" y1="507.20" x2="453.80" y2="507.20" stroke="#5a5a5a" stroke-width="0.9"/>
<text x="444.4" y="511.3" font-size="10.6" text-anchor="end" fill="#231f20" textLength="12.73" lengthAdjust="spacingAndGlyphs">70</text>
<line x1="450.20" y1="477.80" x2="453.80" y2="477.80" stroke="#5a5a5a" stroke-width="0.9"/>
<text x="444.4" y="481.90000000000003" font-size="10.6" text-anchor="end" fill="#231f20" textLength="12.73" lengthAdjust="spacingAndGlyphs">75</text>
<line x1="450.20" y1="448.40" x2="453.80" y2="448.40" stroke="#5a5a5a" stroke-width="0.9"/>
<text x="444.4" y="452.5" font-size="10.6" text-anchor="end" fill="#231f20" textLength="12.73" lengthAdjust="spacingAndGlyphs">80</text>
<line x1="450.20" y1="419.00" x2="453.80" y2="419.00" stroke="#5a5a5a" stroke-width="0.9"/>
<text x="444.4" y="423.1" font-size="10.6" text-anchor="end" fill="#231f20" textLength="12.73" lengthAdjust="spacingAndGlyphs">85</text>
<line x1="450.20" y1="389.60" x2="453.80" y2="389.60" stroke="#5a5a5a" stroke-width="0.9"/>
<text x="444.4" y="393.70000000000005" font-size="10.6" text-anchor="end" fill="#231f20" textLength="12.73" lengthAdjust="spacingAndGlyphs">90</text>
<line x1="450.20" y1="360.20" x2="453.80" y2="360.20" stroke="#5a5a5a" stroke-width="0.9"/>
<text x="444.4" y="364.3" font-size="10.6" text-anchor="end" fill="#231f20" textLength="12.73" lengthAdjust="spacingAndGlyphs">95</text>
<line x1="450.20" y1="330.80" x2="453.80" y2="330.80" stroke="#5a5a5a" stroke-width="0.9"/>
<text x="444.4" y="334.9" font-size="10.6" text-anchor="end" fill="#231f20" textLength="19.1" lengthAdjust="spacingAndGlyphs">100</text>
<line x1="450.20" y1="507.20" x2="450.20" y2="503.60" stroke="#5a5a5a" stroke-width="0.9"/>
<text x="450.2" y="520.8" font-size="10.6" text-anchor="middle" fill="#231f20" textLength="6.37" lengthAdjust="spacingAndGlyphs">0</text>
<line x1="492.06" y1="507.20" x2="492.06" y2="503.60" stroke="#5a5a5a" stroke-width="0.9"/>
<text x="492.06" y="520.8" font-size="10.6" text-anchor="middle" fill="#231f20" textLength="19.1" lengthAdjust="spacingAndGlyphs">100</text>
<line x1="533.92" y1="507.20" x2="533.92" y2="503.60" stroke="#5a5a5a" stroke-width="0.9"/>
<text x="533.92" y="520.8" font-size="10.6" text-anchor="middle" fill="#231f20" textLength="19.1" lengthAdjust="spacingAndGlyphs">200</text>
<line x1="575.78" y1="507.20" x2="575.78" y2="503.60" stroke="#5a5a5a" stroke-width="0.9"/>
<text x="575.78" y="520.8" font-size="10.6" text-anchor="middle" fill="#231f20" textLength="19.1" lengthAdjust="spacingAndGlyphs">300</text>
<line x1="617.64" y1="507.20" x2="617.64" y2="503.60" stroke="#5a5a5a" stroke-width="0.9"/>
<text x="617.64" y="520.8" font-size="10.6" text-anchor="middle" fill="#231f20" textLength="19.1" lengthAdjust="spacingAndGlyphs">400</text>
<line x1="659.50" y1="507.20" x2="659.50" y2="503.60" stroke="#5a5a5a" stroke-width="0.9"/>
<text x="659.5" y="520.8" font-size="10.6" text-anchor="middle" fill="#231f20" textLength="19.1" lengthAdjust="spacingAndGlyphs">500</text>
<text transform="translate(417,413.8) rotate(-90)" font-size="12.5" text-anchor="middle" fill="#231f20" textLength="36" lengthAdjust="spacingAndGlyphs">TG (%)</text>
<text x="563.5" y="538.5" font-size="11.5" text-anchor="middle" fill="#231f20"><tspan font-style="italic">T</tspan> (°C)</text>
<line x1="462.70" y1="331.20" x2="610.50" y2="331.20" stroke="#ee3b3b" stroke-width="1.2" stroke-dasharray="4.5,3"/>
<line x1="468.30" y1="344.10" x2="613.30" y2="344.10" stroke="#ee3b3b" stroke-width="1.2" stroke-dasharray="4.5,3"/>
<line x1="594.40" y1="334.00" x2="594.40" y2="341.30" stroke="#ee3b3b" stroke-width="0.8"/>
<polygon points="594.40,331.50 592.20,336.50 596.60,336.50" fill="none" stroke="#ee3b3b" stroke-width="0.7"/>
<polygon points="594.40,343.80 592.20,338.80 596.60,338.80" fill="none" stroke="#ee3b3b" stroke-width="0.7"/>
<text x="580.7" y="357.2" font-size="11.5" fill="#231f20" textLength="89.8" lengthAdjust="spacingAndGlyphs">Absorbed water</text>
<path d="M462.59,330.80 C465.41,331.34 473.96,332.96 479.50,334.03 C485.04,335.11 490.25,336.34 495.83,337.27 C501.41,338.20 507.27,338.74 512.99,339.62 C518.71,340.50 525.83,341.58 530.15,342.56 C534.48,343.54 536.26,344.32 538.94,345.50 C541.62,346.68 543.85,348.15 546.23,349.62 C548.60,351.09 550.89,352.46 553.18,354.32 C555.46,356.18 556.92,357.06 559.96,360.79 C563.00,364.51 567.60,370.59 571.43,376.66 C575.25,382.74 579.43,391.07 582.90,397.24 C586.36,403.42 589.15,408.71 592.23,413.71 C595.31,418.71 598.35,423.12 601.40,427.23 C604.45,431.35 607.85,434.29 610.52,438.40 C613.20,442.52 615.32,446.93 617.43,451.93 C619.54,456.93 621.25,463.39 623.17,468.39 C625.08,473.39 626.44,478.88 628.94,481.92 C631.44,484.95 632.99,485.54 638.15,486.62 C643.31,487.70 656.29,488.09 659.92,488.38" fill="none" stroke="#f0a92e" stroke-width="1.5"/>
<path d="M462.59,330.80 C468.90,330.85 489.17,331.00 500.43,331.09 C511.69,331.19 522.52,330.95 530.15,331.39 C537.79,331.83 541.62,332.07 546.23,333.74 C550.83,335.41 553.95,337.46 557.78,341.38 C561.61,345.30 565.01,351.18 569.21,357.26 C573.41,363.34 578.77,371.96 582.98,377.84 C587.19,383.72 590.63,387.74 594.45,392.54 C598.27,397.34 602.47,401.26 605.92,406.65 C609.37,412.04 612.06,418.02 615.13,424.88 C618.20,431.74 621.67,441.74 624.34,447.81 C627.01,453.89 628.88,458.10 631.16,461.34 C633.44,464.57 633.23,466.14 638.03,467.22 C642.82,468.29 656.27,467.71 659.92,467.80" fill="none" stroke="#77c36f" stroke-width="1.5"/>
<path d="M462.59,330.80 C468.90,330.85 489.17,331.00 500.43,331.09 C511.69,331.19 522.52,330.85 530.15,331.39 C537.79,331.93 541.62,332.47 546.23,334.33 C550.83,336.19 553.95,338.54 557.78,342.56 C561.61,346.58 565.39,352.36 569.21,358.44 C573.02,364.51 577.24,372.94 580.68,379.02 C584.12,385.09 586.80,389.99 589.84,394.89 C592.89,399.79 595.52,403.81 598.97,408.42 C602.42,413.02 607.06,416.75 610.52,422.53 C613.98,428.31 617.05,436.64 619.73,443.11 C622.41,449.58 624.31,456.63 626.60,461.34 C628.89,466.04 631.17,469.18 633.46,471.33 C635.75,473.49 635.92,473.68 640.33,474.27 C644.74,474.86 656.65,474.76 659.92,474.86" fill="none" stroke="#e8402c" stroke-width="1.5"/>
<path d="M462.59,330.80 C468.90,330.80 487.23,330.70 500.43,330.80 C513.64,330.90 533.60,330.80 541.83,331.39 C550.06,331.98 547.17,332.76 549.83,334.33 C552.48,335.90 554.15,336.97 557.78,340.80 C561.41,344.62 567.00,351.09 571.59,357.26 C576.18,363.43 581.13,372.84 585.32,377.84 C589.52,382.84 592.55,384.01 596.75,387.25 C600.95,390.48 606.69,393.62 610.52,397.24 C614.35,400.87 617.05,404.79 619.73,409.00 C622.41,413.22 624.31,418.02 626.60,422.53 C628.89,427.04 631.17,433.11 633.46,436.05 C635.75,438.99 635.92,439.29 640.33,440.17 C644.74,441.05 656.65,441.15 659.92,441.34" fill="none" stroke="#3c7fd0" stroke-width="1.5"/>
<line x1="461.00" y1="445.90" x2="481.70" y2="445.90" stroke="#f0a92e" stroke-width="1.5"/>
<text x="485.7" y="449.5" font-size="10.2" fill="#231f20" textLength="61.8" lengthAdjust="spacingAndGlyphs">No pre-baking</text>
<line x1="461.00" y1="460.10" x2="481.70" y2="460.10" stroke="#e8402c" stroke-width="1.5"/>
<text x="485.7" y="463.70000000000005" font-size="10.2" fill="#231f20" textLength="85.5" lengthAdjust="spacingAndGlyphs">Pre-baking at 80 °C</text>
<line x1="461.00" y1="474.60" x2="481.70" y2="474.60" stroke="#77c36f" stroke-width="1.5"/>
<text x="485.7" y="478.20000000000005" font-size="10.2" fill="#231f20" textLength="86.5" lengthAdjust="spacingAndGlyphs">Pre-baking at 115 °C</text>
<line x1="461.00" y1="488.50" x2="481.70" y2="488.50" stroke="#3c7fd0" stroke-width="1.5"/>
<text x="485.7" y="492.1" font-size="10.2" fill="#231f20" textLength="88.6" lengthAdjust="spacingAndGlyphs">Pre-baking at 150 °C</text>
<text x="708.8" y="312.8" font-size="17.5" font-weight="bold" fill="#000" stroke="#000" stroke-width="0.35">f</text>
<rect x="788.30" y="366.57" width="26.70" height="144.53" fill="#3779d0" stroke="#2a3d66" stroke-width="0.7"/>
<line x1="801.65" y1="511.10" x2="801.65" y2="507.60" stroke="#333" stroke-width="0.7"/>
<text x="801.65" y="362.56693000000007" font-size="11.5" text-anchor="middle" font-weight="bold" fill="#000" textLength="29.4" lengthAdjust="spacingAndGlyphs" stroke="#000" stroke-width="0.3">22.11</text>
<rect x="833.30" y="411.35" width="27.20" height="99.75" fill="#3779d0" stroke="#2a3d66" stroke-width="0.7"/>
<line x1="846.90" y1="511.10" x2="846.90" y2="507.60" stroke="#333" stroke-width="0.7"/>
<text x="846.9" y="407.34538000000003" font-size="11.5" text-anchor="middle" font-weight="bold" fill="#000" textLength="31.9" lengthAdjust="spacingAndGlyphs" stroke="#000" stroke-width="0.3">15.26</text>
<rect x="878.20" y="442.07" width="27.60" height="69.03" fill="#3779d0" stroke="#2a3d66" stroke-width="0.7"/>
<line x1="892.00" y1="511.10" x2="892.00" y2="507.60" stroke="#333" stroke-width="0.7"/>
<text x="892.0" y="438.06928000000005" font-size="11.5" text-anchor="middle" font-weight="bold" fill="#000" textLength="33.8" lengthAdjust="spacingAndGlyphs" stroke="#000" stroke-width="0.3">10.56</text>
<rect x="924.00" y="492.53" width="26.60" height="18.57" fill="#f0bb4a" stroke="#2a3d66" stroke-width="0.7"/>
<line x1="937.30" y1="511.10" x2="937.30" y2="507.60" stroke="#333" stroke-width="0.7"/>
<text x="937.3" y="488.53492" font-size="11.5" text-anchor="middle" font-weight="bold" fill="#000" textLength="26.2" lengthAdjust="spacingAndGlyphs" stroke="#000" stroke-width="0.3">2.84</text>
<path d="M753.5,315 H985.6 V511.1 H753.5 Z" fill="none" stroke="#5a5a5a" stroke-width="1"/>
<line x1="753.50" y1="511.10" x2="757.10" y2="511.10" stroke="#5a5a5a" stroke-width="0.9"/>
<text x="747.5" y="515.2" font-size="10.6" text-anchor="end" fill="#231f20" textLength="6.37" lengthAdjust="spacingAndGlyphs">0</text>
<line x1="753.50" y1="478.42" x2="757.10" y2="478.42" stroke="#5a5a5a" stroke-width="0.9"/>
<text x="747.5" y="482.51500000000004" font-size="10.6" text-anchor="end" fill="#231f20" textLength="6.37" lengthAdjust="spacingAndGlyphs">5</text>
<line x1="753.50" y1="445.73" x2="757.10" y2="445.73" stroke="#5a5a5a" stroke-width="0.9"/>
<text x="747.5" y="449.83000000000004" font-size="10.6" text-anchor="end" fill="#231f20" textLength="12.73" lengthAdjust="spacingAndGlyphs">10</text>
<line x1="753.50" y1="413.05" x2="757.10" y2="413.05" stroke="#5a5a5a" stroke-width="0.9"/>
<text x="747.5" y="417.14500000000004" font-size="10.6" text-anchor="end" fill="#231f20" textLength="12.73" lengthAdjust="spacingAndGlyphs">15</text>
<line x1="753.50" y1="380.36" x2="757.10" y2="380.36" stroke="#5a5a5a" stroke-width="0.9"/>
<text x="747.5" y="384.46000000000004" font-size="10.6" text-anchor="end" fill="#231f20" textLength="12.73" lengthAdjust="spacingAndGlyphs">20</text>
<line x1="753.50" y1="347.68" x2="757.10" y2="347.68" stroke="#5a5a5a" stroke-width="0.9"/>
<text x="747.5" y="351.77500000000003" font-size="10.6" text-anchor="end" fill="#231f20" textLength="12.73" lengthAdjust="spacingAndGlyphs">25</text>
<line x1="753.50" y1="314.99" x2="757.10" y2="314.99" stroke="#5a5a5a" stroke-width="0.9"/>
<text x="747.5" y="319.09000000000003" font-size="10.6" text-anchor="end" fill="#231f20" textLength="12.73" lengthAdjust="spacingAndGlyphs">30</text>
<text transform="translate(722.2,416) rotate(-90)" font-size="12.5" text-anchor="middle" fill="#231f20" textLength="139.5" lengthAdjust="spacingAndGlyphs">Adhesion force (N cm<tspan font-size="7.5" dy="-4">−1</tspan><tspan dy="4">)</tspan></text>
<text transform="translate(806.6,521.5) rotate(-45)" font-size="11.5" text-anchor="end" fill="#231f20" textLength="80" lengthAdjust="spacingAndGlyphs">No pre-baking</text>
<text transform="translate(851.9,521.5) rotate(-45)" font-size="11.5" text-anchor="end" fill="#231f20" textLength="97" lengthAdjust="spacingAndGlyphs">80 °C pre-baking</text>
<text transform="translate(897.0,521.5) rotate(-45)" font-size="11.5" text-anchor="end" fill="#231f20" textLength="99" lengthAdjust="spacingAndGlyphs">115 °C pre-baking</text>
<text transform="translate(942.3,521.5) rotate(-45)" font-size="11.5" text-anchor="end" fill="#231f20" textLength="100" lengthAdjust="spacingAndGlyphs">150 °C pre-baking</text>
<text x="19.4" y="617.5" font-size="17.5" font-weight="bold" fill="#000" stroke="#000" stroke-width="0.35">g</text>
<rect x="68.00" y="628.90" width="228.50" height="180.10" fill="none" stroke="#5a5a5a" stroke-width="1"/>
<line x1="68.00" y1="809.00" x2="71.60" y2="809.00" stroke="#5a5a5a" stroke-width="0.9"/>
<text x="62" y="813.1" font-size="10.6" text-anchor="end" fill="#231f20" textLength="6.37" lengthAdjust="spacingAndGlyphs">0</text>
<line x1="68.00" y1="790.04" x2="71.60" y2="790.04" stroke="#5a5a5a" stroke-width="0.9"/>
<text x="62" y="794.14" font-size="10.6" text-anchor="end" fill="#231f20" textLength="19.1" lengthAdjust="spacingAndGlyphs">100</text>
<line x1="68.00" y1="771.08" x2="71.60" y2="771.08" stroke="#5a5a5a" stroke-width="0.9"/>
<text x="62" y="775.1800000000001" font-size="10.6" text-anchor="end" fill="#231f20" textLength="19.1" lengthAdjust="spacingAndGlyphs">200</text>
<line x1="68.00" y1="752.12" x2="71.60" y2="752.12" stroke="#5a5a5a" stroke-width="0.9"/>
<text x="62" y="756.22" font-size="10.6" text-anchor="end" fill="#231f20" textLength="19.1" lengthAdjust="spacingAndGlyphs">300</text>
<line x1="68.00" y1="733.16" x2="71.60" y2="733.16" stroke="#5a5a5a" stroke-width="0.9"/>
<text x="62" y="737.26" font-size="10.6" text-anchor="end" fill="#231f20" textLength="19.1" lengthAdjust="spacingAndGlyphs">400</text>
<line x1="68.00" y1="714.20" x2="71.60" y2="714.20" stroke="#5a5a5a" stroke-width="0.9"/>
<text x="62" y="718.3000000000001" font-size="10.6" text-anchor="end" fill="#231f20" textLength="19.1" lengthAdjust="spacingAndGlyphs">500</text>
<line x1="68.00" y1="695.24" x2="71.60" y2="695.24" stroke="#5a5a5a" stroke-width="0.9"/>
<text x="62" y="699.34" font-size="10.6" text-anchor="end" fill="#231f20" textLength="19.1" lengthAdjust="spacingAndGlyphs">600</text>
<line x1="68.00" y1="676.28" x2="71.60" y2="676.28" stroke="#5a5a5a" stroke-width="0.9"/>
<text x="62" y="680.38" font-size="10.6" text-anchor="end" fill="#231f20" textLength="19.1" lengthAdjust="spacingAndGlyphs">700</text>
<line x1="68.00" y1="657.32" x2="71.60" y2="657.32" stroke="#5a5a5a" stroke-width="0.9"/>
<text x="62" y="661.42" font-size="10.6" text-anchor="end" fill="#231f20" textLength="19.1" lengthAdjust="spacingAndGlyphs">800</text>
<line x1="68.00" y1="638.36" x2="71.60" y2="638.36" stroke="#5a5a5a" stroke-width="0.9"/>
<text x="62" y="642.46" font-size="10.6" text-anchor="end" fill="#231f20" textLength="19.1" lengthAdjust="spacingAndGlyphs">900</text>
<line x1="68.00" y1="809.00" x2="68.00" y2="805.40" stroke="#5a5a5a" stroke-width="0.9"/>
<text x="68.0" y="823.7" font-size="10.6" text-anchor="middle" fill="#231f20" textLength="15.91" lengthAdjust="spacingAndGlyphs">0.4</text>
<line x1="96.56" y1="809.00" x2="96.56" y2="805.40" stroke="#5a5a5a" stroke-width="0.9"/>
<text x="96.56" y="823.7" font-size="10.6" text-anchor="middle" fill="#231f20" textLength="15.91" lengthAdjust="spacingAndGlyphs">0.6</text>
<line x1="125.12" y1="809.00" x2="125.12" y2="805.40" stroke="#5a5a5a" stroke-width="0.9"/>
<text x="125.12" y="823.7" font-size="10.6" text-anchor="middle" fill="#231f20" textLength="15.91" lengthAdjust="spacingAndGlyphs">0.8</text>
<line x1="153.68" y1="809.00" x2="153.68" y2="805.40" stroke="#5a5a5a" stroke-width="0.9"/>
<text x="153.68" y="823.7" font-size="10.6" text-anchor="middle" fill="#231f20" textLength="15.91" lengthAdjust="spacingAndGlyphs">1.0</text>
<line x1="182.24" y1="809.00" x2="182.24" y2="805.40" stroke="#5a5a5a" stroke-width="0.9"/>
<text x="182.24" y="823.7" font-size="10.6" text-anchor="middle" fill="#231f20" textLength="15.91" lengthAdjust="spacingAndGlyphs">1.2</text>
<line x1="210.80" y1="809.00" x2="210.80" y2="805.40" stroke="#5a5a5a" stroke-width="0.9"/>
<text x="210.79999999999998" y="823.7" font-size="10.6" text-anchor="middle" fill="#231f20" textLength="15.91" lengthAdjust="spacingAndGlyphs">1.4</text>
<line x1="239.36" y1="809.00" x2="239.36" y2="805.40" stroke="#5a5a5a" stroke-width="0.9"/>
<text x="239.36000000000004" y="823.7" font-size="10.6" text-anchor="middle" fill="#231f20" textLength="15.91" lengthAdjust="spacingAndGlyphs">1.6</text>
<line x1="267.92" y1="809.00" x2="267.92" y2="805.40" stroke="#5a5a5a" stroke-width="0.9"/>
<text x="267.92" y="823.7" font-size="10.6" text-anchor="middle" fill="#231f20" textLength="15.91" lengthAdjust="spacingAndGlyphs">1.8</text>
<line x1="296.48" y1="809.00" x2="296.48" y2="805.40" stroke="#5a5a5a" stroke-width="0.9"/>
<text x="296.48" y="823.7" font-size="10.6" text-anchor="middle" fill="#231f20" textLength="15.91" lengthAdjust="spacingAndGlyphs">2.0</text>
<text transform="translate(30.1,719.5) rotate(-90)" font-size="12.5" text-anchor="middle" fill="#231f20" textLength="85.3" lengthAdjust="spacingAndGlyphs">Thickness (μm)</text>
<text x="82.2" y="844.8" font-size="11.8" fill="#231f20" textLength="199.8" lengthAdjust="spacingAndGlyphs">Apparent diffusion rate <tspan font-style="italic">K</tspan> (mm s<tspan font-size="7.5" dy="-4">−1/2</tspan><tspan dy="4">)</tspan></text>
<path d="M93.70,809.00 L111.81,804.97 L122.02,800.94 L130.49,796.91 L137.99,792.88 L144.85,788.86 L151.23,784.83 L157.25,780.80 L162.97,776.77 L168.44,772.74 L173.69,768.71 L178.76,764.68 L183.68,760.65 L188.44,756.62 L193.08,752.59 L197.61,748.57 L202.03,744.54 L206.35,740.51 L210.58,736.48 L214.73,732.45 L218.80,728.42 L222.80,724.39 L226.73,720.36 L230.60,716.33 L234.41,712.30 L238.17,708.27 L241.87,704.25 L245.52,700.22 L249.13,696.19 L252.68,692.16 L256.20,688.13 L259.67,684.10 L263.11,680.07 L266.51,676.04 L269.87,672.01 L273.19,667.99 L276.48,663.96 L279.74,659.93 L282.97,655.90 L286.17,651.87 L289.34,647.84" fill="none" stroke="#ee6a6a" stroke-width="1.5" stroke-dasharray="5,3.5"/>
<path d="M197.95,809.00 L203.20,805.07 L206.28,801.13 L208.87,797.20 L211.18,793.26 L213.30,789.33 L215.28,785.39 L217.16,781.46 L218.95,777.53 L220.66,773.59 L222.32,769.66 L223.91,765.72 L225.47,761.79 L226.97,757.86 L228.44,753.92 L229.88,749.99 L231.28,746.05 L232.66,742.12 L234.01,738.18 L235.33,734.25 L236.63,730.32 L237.91,726.38 L239.17,722.45 L240.41,718.51 L241.63,714.58 L242.83,710.64 L244.02,706.71 L245.20,702.78 L246.36,698.84 L247.50,694.91 L248.64,690.97 L249.76,687.04 L250.86,683.11 L251.96,679.17 L253.05,675.24 L254.12,671.30 L255.19,667.37 L256.24,663.43 L257.29,659.50 L258.32,655.57 L259.35,651.63" fill="none" stroke="#6fb06a" stroke-width="1.5" stroke-dasharray="5,3.5"/>
<path d="M235.08,809.00 L236.35,804.83 L237.29,800.66 L238.13,796.49 L238.92,792.32 L239.68,788.14 L240.40,783.97 L241.10,779.80 L241.77,775.63 L242.44,771.46 L243.08,767.29 L243.72,763.12 L244.34,758.95 L244.95,754.77 L245.56,750.60 L246.15,746.43 L246.74,742.26 L247.32,738.09 L247.89,733.92 L248.46,729.75 L249.02,725.58 L249.57,721.40 L250.12,717.23 L250.67,713.06 L251.21,708.89 L251.74,704.72 L252.28,700.55 L252.80,696.38 L253.33,692.21 L253.85,688.04 L254.36,683.86 L254.87,679.69 L255.38,675.52 L255.89,671.35 L256.39,667.18 L256.89,663.01 L257.39,658.84 L257.88,654.67 L258.38,650.49 L258.87,646.32 L259.35,642.15" fill="none" stroke="#3b7fd8" stroke-width="1.5" stroke-dasharray="5,3.5"/>
<polygon points="167.96,765.86 172.71,775.07 163.21,775.07" fill="#ee6a6a" stroke="#c84a4a" stroke-width="0.5"/>
<polygon points="186.52,746.89 191.27,756.11 181.77,756.11" fill="#ee6a6a" stroke="#c84a4a" stroke-width="0.5"/>
<polygon points="210.80,733.62 215.55,742.84 206.05,742.84" fill="#ee6a6a" stroke="#c84a4a" stroke-width="0.5"/>
<polygon points="222.22,708.98 226.97,718.19 217.47,718.19" fill="#ee6a6a" stroke="#c84a4a" stroke-width="0.5"/>
<polygon points="252.21,693.81 256.96,703.02 247.46,703.02" fill="#ee6a6a" stroke="#c84a4a" stroke-width="0.5"/>
<polygon points="253.64,690.01 258.39,699.23 248.89,699.23" fill="#ee6a6a" stroke="#c84a4a" stroke-width="0.5"/>
<polygon points="260.78,682.43 265.53,691.65 256.03,691.65" fill="#ee6a6a" stroke="#c84a4a" stroke-width="0.5"/>
<polygon points="277.92,653.99 282.67,663.21 273.17,663.21" fill="#ee6a6a" stroke="#c84a4a" stroke-width="0.5"/>
<polygon points="289.34,642.62 294.09,651.83 284.59,651.83" fill="#ee6a6a" stroke="#c84a4a" stroke-width="0.5"/>
<circle cx="222.22" cy="748.33" r="3.60" fill="#9ed08a" stroke="#7fb06f" stroke-width="0.5"/>
<circle cx="235.08" cy="733.16" r="3.60" fill="#9ed08a" stroke="#7fb06f" stroke-width="0.5"/>
<circle cx="239.36" cy="723.68" r="3.60" fill="#9ed08a" stroke="#7fb06f" stroke-width="0.5"/>
<circle cx="242.22" cy="716.10" r="3.60" fill="#9ed08a" stroke="#7fb06f" stroke-width="0.5"/>
<circle cx="246.50" cy="708.51" r="3.60" fill="#9ed08a" stroke="#7fb06f" stroke-width="0.5"/>
<circle cx="256.50" cy="666.80" r="3.60" fill="#9ed08a" stroke="#7fb06f" stroke-width="0.5"/>
<circle cx="257.92" cy="661.11" r="3.60" fill="#9ed08a" stroke="#7fb06f" stroke-width="0.5"/>
<circle cx="259.35" cy="651.63" r="3.60" fill="#9ed08a" stroke="#7fb06f" stroke-width="0.5"/>
<rect x="235.96" y="767.68" width="6.80" height="6.80" fill="#3478d0" stroke="#2a5fa8" stroke-width="0.5"/>
<rect x="237.39" y="763.89" width="6.80" height="6.80" fill="#3478d0" stroke="#2a5fa8" stroke-width="0.5"/>
<rect x="244.53" y="712.70" width="6.80" height="6.80" fill="#3478d0" stroke="#2a5fa8" stroke-width="0.5"/>
<rect x="247.38" y="693.74" width="6.80" height="6.80" fill="#3478d0" stroke="#2a5fa8" stroke-width="0.5"/>
<rect x="248.81" y="674.78" width="6.80" height="6.80" fill="#3478d0" stroke="#2a5fa8" stroke-width="0.5"/>
<rect x="253.10" y="672.88" width="6.80" height="6.80" fill="#3478d0" stroke="#2a5fa8" stroke-width="0.5"/>
<rect x="255.95" y="638.75" width="6.80" height="6.80" fill="#3478d0" stroke="#2a5fa8" stroke-width="0.5"/>
<polygon points="87.50,632.00 92.00,639.80 83.00,639.80" fill="#ee6a6a" stroke="#c84a4a" stroke-width="0.5"/>
<line x1="76.00" y1="649.10" x2="96.00" y2="649.10" stroke="#ee6a6a" stroke-width="1.5" stroke-dasharray="6,8"/>
<circle cx="87.50" cy="661.50" r="3.90" fill="#9ed08a" stroke="#7fb06f" stroke-width="0.5"/>
<line x1="76.00" y1="673.90" x2="96.00" y2="673.90" stroke="#6fb06a" stroke-width="1.5" stroke-dasharray="6,8"/>
<rect x="84.00" y="683.00" width="6.90" height="6.80" fill="#3478d0" stroke="#2a5fa8" stroke-width="0.5"/>
<line x1="76.00" y1="698.50" x2="96.00" y2="698.50" stroke="#3b7fd8" stroke-width="1.5" stroke-dasharray="6,8"/>
<text x="99.1" y="640.4" font-size="10.2" fill="#231f20" textLength="86.3" lengthAdjust="spacingAndGlyphs">Pre-baking at 80 °C</text>
<text x="99.1" y="652.3" font-size="10.2" fill="#231f20" textLength="130.5" lengthAdjust="spacingAndGlyphs">Fitting for pre-baking at 80 °C</text>
<text x="99.1" y="664.7" font-size="10.2" fill="#231f20" textLength="86.3" lengthAdjust="spacingAndGlyphs">Pre-baking at 80 °C</text>
<text x="99.1" y="676.6" font-size="10.2" fill="#231f20" textLength="130.5" lengthAdjust="spacingAndGlyphs">Fitting for pre-baking at 80 °C</text>
<text x="99.1" y="689.4" font-size="10.2" fill="#231f20" textLength="86.3" lengthAdjust="spacingAndGlyphs">Pre-baking at 80 °C</text>
<text x="99.1" y="700.9" font-size="10.2" fill="#231f20" textLength="130.5" lengthAdjust="spacingAndGlyphs">Fitting for pre-baking at 80 °C</text>
<text x="330.6" y="617.8" font-size="17.5" font-weight="bold" fill="#000" stroke="#000" stroke-width="0.35">h</text>
<rect x="398.50" y="714.16" width="24.00" height="99.24" fill="#f2c5bd" stroke="#333" stroke-width="0.6"/>
<rect x="398.50" y="673.62" width="24.00" height="40.54" fill="#f46b6b" stroke="#333" stroke-width="0.6"/>
<text x="410.5" y="766.479165" font-size="7.6" text-anchor="middle" font-weight="bold" fill="#111" textLength="22" lengthAdjust="spacingAndGlyphs" stroke="#111" stroke-width="0.2">71.0%</text>
<text x="410.5" y="696.5906650000001" font-size="7.6" text-anchor="middle" font-weight="bold" fill="#111" textLength="22" lengthAdjust="spacingAndGlyphs" stroke="#111" stroke-width="0.2">29.0%</text>
<line x1="410.50" y1="813.40" x2="410.50" y2="817.00" stroke="#5a5a5a" stroke-width="0.8"/>
<text x="410.5" y="829.8" font-size="10.6" text-anchor="middle" fill="#231f20" textLength="19.1" lengthAdjust="spacingAndGlyphs">850</text>
<rect x="428.30" y="716.67" width="23.70" height="96.73" fill="#f2c5bd" stroke="#333" stroke-width="0.6"/>
<rect x="428.30" y="678.31" width="23.70" height="38.37" fill="#f46b6b" stroke="#333" stroke-width="0.6"/>
<text x="440.15" y="767.7364375" font-size="7.6" text-anchor="middle" font-weight="bold" fill="#111" textLength="22" lengthAdjust="spacingAndGlyphs" stroke="#111" stroke-width="0.2">71.6%</text>
<text x="440.15" y="700.1895625" font-size="7.6" text-anchor="middle" font-weight="bold" fill="#111" textLength="22" lengthAdjust="spacingAndGlyphs" stroke="#111" stroke-width="0.2">28.4%</text>
<line x1="440.15" y1="813.40" x2="440.15" y2="817.00" stroke="#5a5a5a" stroke-width="0.8"/>
<text x="440.15" y="829.8" font-size="10.6" text-anchor="middle" fill="#231f20" textLength="19.1" lengthAdjust="spacingAndGlyphs">790</text>
<rect x="457.70" y="734.29" width="23.70" height="79.11" fill="#f2c5bd" stroke="#333" stroke-width="0.6"/>
<rect x="457.70" y="690.55" width="23.70" height="43.73" fill="#f46b6b" stroke="#333" stroke-width="0.6"/>
<text x="469.54999999999995" y="776.5438295" font-size="7.6" text-anchor="middle" font-weight="bold" fill="#111" textLength="22" lengthAdjust="spacingAndGlyphs" stroke="#111" stroke-width="0.2">64.4%</text>
<text x="469.54999999999995" y="715.1212045" font-size="7.6" text-anchor="middle" font-weight="bold" fill="#111" textLength="22" lengthAdjust="spacingAndGlyphs" stroke="#111" stroke-width="0.2">35.6%</text>
<line x1="469.55" y1="813.40" x2="469.55" y2="817.00" stroke="#5a5a5a" stroke-width="0.8"/>
<text x="469.54999999999995" y="829.8" font-size="10.6" text-anchor="middle" fill="#231f20" textLength="19.1" lengthAdjust="spacingAndGlyphs">600</text>
<rect x="487.50" y="739.47" width="23.80" height="73.93" fill="#f2c5bd" stroke="#333" stroke-width="0.6"/>
<rect x="487.50" y="706.41" width="23.80" height="33.06" fill="#f46b6b" stroke="#333" stroke-width="0.6"/>
<text x="499.4" y="779.133486625" font-size="7.6" text-anchor="middle" font-weight="bold" fill="#111" textLength="22" lengthAdjust="spacingAndGlyphs" stroke="#111" stroke-width="0.2">69.1%</text>
<text x="499.4" y="725.6363616250001" font-size="7.6" text-anchor="middle" font-weight="bold" fill="#111" textLength="22" lengthAdjust="spacingAndGlyphs" stroke="#111" stroke-width="0.2">30.9%</text>
<line x1="499.40" y1="813.40" x2="499.40" y2="817.00" stroke="#5a5a5a" stroke-width="0.8"/>
<text x="499.4" y="829.8" font-size="10.6" text-anchor="middle" fill="#231f20" textLength="19.1" lengthAdjust="spacingAndGlyphs">500</text>
<rect x="517.30" y="763.04" width="23.70" height="50.36" fill="#f2c5bd" stroke="#333" stroke-width="0.6"/>
<rect x="517.30" y="724.42" width="23.70" height="38.62" fill="#f46b6b" stroke="#333" stroke-width="0.6"/>
<text x="529.15" y="790.91816475" font-size="7.6" text-anchor="middle" font-weight="bold" fill="#111" textLength="22" lengthAdjust="spacingAndGlyphs" stroke="#111" stroke-width="0.2">56.6%</text>
<text x="529.15" y="746.42728975" font-size="7.6" text-anchor="middle" font-weight="bold" fill="#111" textLength="22" lengthAdjust="spacingAndGlyphs" stroke="#111" stroke-width="0.2">43.4%</text>
<line x1="529.15" y1="813.40" x2="529.15" y2="817.00" stroke="#5a5a5a" stroke-width="0.8"/>
<text x="529.15" y="829.8" font-size="10.6" text-anchor="middle" fill="#231f20" textLength="19.1" lengthAdjust="spacingAndGlyphs">300</text>
<rect x="546.80" y="777.48" width="23.70" height="35.92" fill="#f2c5bd" stroke="#333" stroke-width="0.6"/>
<rect x="546.80" y="733.57" width="23.70" height="43.91" fill="#f46b6b" stroke="#333" stroke-width="0.6"/>
<text x="558.65" y="798.137935" font-size="7.6" text-anchor="middle" font-weight="bold" fill="#111" textLength="22" lengthAdjust="spacingAndGlyphs" stroke="#111" stroke-width="0.2">45.0%</text>
<text x="558.65" y="758.222235" font-size="7.6" text-anchor="middle" font-weight="bold" fill="#111" textLength="22" lengthAdjust="spacingAndGlyphs" stroke="#111" stroke-width="0.2">55.0%</text>
<line x1="558.65" y1="813.40" x2="558.65" y2="817.00" stroke="#5a5a5a" stroke-width="0.8"/>
<text x="558.65" y="829.8" font-size="10.6" text-anchor="middle" fill="#231f20" textLength="19.1" lengthAdjust="spacingAndGlyphs">200</text>
<rect x="600.00" y="771.88" width="23.70" height="41.52" fill="#c7e2b6" stroke="#333" stroke-width="0.6"/>
<rect x="600.00" y="692.36" width="23.70" height="79.53" fill="#72ad7e" stroke="#333" stroke-width="0.6"/>
<text x="611.85" y="795.340954" font-size="7.6" text-anchor="middle" font-weight="bold" fill="#111" textLength="22" lengthAdjust="spacingAndGlyphs" stroke="#111" stroke-width="0.2">34.3%</text>
<text x="611.85" y="734.8189540000001" font-size="7.6" text-anchor="middle" font-weight="bold" fill="#111" textLength="22" lengthAdjust="spacingAndGlyphs" stroke="#111" stroke-width="0.2">65.7%</text>
<line x1="611.85" y1="813.40" x2="611.85" y2="817.00" stroke="#5a5a5a" stroke-width="0.8"/>
<text x="611.85" y="829.8" font-size="10.6" text-anchor="middle" fill="#231f20" textLength="19.1" lengthAdjust="spacingAndGlyphs">830</text>
<rect x="629.80" y="775.37" width="23.70" height="38.03" fill="#c7e2b6" stroke="#333" stroke-width="0.6"/>
<rect x="629.80" y="693.44" width="23.70" height="81.93" fill="#72ad7e" stroke="#333" stroke-width="0.6"/>
<text x="641.65" y="797.0858248750001" font-size="7.6" text-anchor="middle" font-weight="bold" fill="#111" textLength="22" lengthAdjust="spacingAndGlyphs" stroke="#111" stroke-width="0.2">31.7%</text>
<text x="641.65" y="737.104199875" font-size="7.6" text-anchor="middle" font-weight="bold" fill="#111" textLength="22" lengthAdjust="spacingAndGlyphs" stroke="#111" stroke-width="0.2">68.3%</text>
<line x1="641.65" y1="813.40" x2="641.65" y2="817.00" stroke="#5a5a5a" stroke-width="0.8"/>
<text x="641.65" y="829.8" font-size="10.6" text-anchor="middle" fill="#231f20" textLength="19.1" lengthAdjust="spacingAndGlyphs">750</text>
<rect x="659.50" y="784.54" width="24.00" height="28.86" fill="#c7e2b6" stroke="#333" stroke-width="0.6"/>
<rect x="659.50" y="700.21" width="24.00" height="84.33" fill="#72ad7e" stroke="#333" stroke-width="0.6"/>
<text x="671.5" y="801.668204875" font-size="7.6" text-anchor="middle" font-weight="bold" fill="#111" textLength="22" lengthAdjust="spacingAndGlyphs" stroke="#111" stroke-width="0.2">25.5%</text>
<text x="671.5" y="745.072929875" font-size="7.6" text-anchor="middle" font-weight="bold" fill="#111" textLength="22" lengthAdjust="spacingAndGlyphs" stroke="#111" stroke-width="0.2">74.5%</text>
<line x1="671.50" y1="813.40" x2="671.50" y2="817.00" stroke="#5a5a5a" stroke-width="0.8"/>
<text x="671.5" y="829.8" font-size="10.6" text-anchor="middle" fill="#231f20" textLength="19.1" lengthAdjust="spacingAndGlyphs">530</text>
<rect x="689.50" y="788.00" width="24.00" height="25.40" fill="#c7e2b6" stroke="#333" stroke-width="0.6"/>
<rect x="689.50" y="704.39" width="24.00" height="83.61" fill="#72ad7e" stroke="#333" stroke-width="0.6"/>
<text x="701.5" y="803.400142775" font-size="7.6" text-anchor="middle" font-weight="bold" fill="#111" textLength="22" lengthAdjust="spacingAndGlyphs" stroke="#111" stroke-width="0.2">23.3%</text>
<text x="701.5" y="748.894317775" font-size="7.6" text-anchor="middle" font-weight="bold" fill="#111" textLength="22" lengthAdjust="spacingAndGlyphs" stroke="#111" stroke-width="0.2">76.7%</text>
<line x1="701.50" y1="813.40" x2="701.50" y2="817.00" stroke="#5a5a5a" stroke-width="0.8"/>
<text x="701.5" y="829.8" font-size="10.6" text-anchor="middle" fill="#231f20" textLength="19.1" lengthAdjust="spacingAndGlyphs">450</text>
<rect x="719.10" y="790.14" width="23.60" height="23.26" fill="#c7e2b6" stroke="#333" stroke-width="0.6"/>
<rect x="719.10" y="707.20" width="23.60" height="82.94" fill="#72ad7e" stroke="#333" stroke-width="0.6"/>
<text x="730.9000000000001" y="804.47091385" font-size="7.6" text-anchor="middle" font-weight="bold" fill="#111" textLength="22" lengthAdjust="spacingAndGlyphs" stroke="#111" stroke-width="0.2">21.9%</text>
<text x="730.9000000000001" y="751.3700638500001" font-size="7.6" text-anchor="middle" font-weight="bold" fill="#111" textLength="22" lengthAdjust="spacingAndGlyphs" stroke="#111" stroke-width="0.2">78.1%</text>
<line x1="730.90" y1="813.40" x2="730.90" y2="817.00" stroke="#5a5a5a" stroke-width="0.8"/>
<text x="730.9000000000001" y="829.8" font-size="10.6" text-anchor="middle" fill="#231f20" textLength="19.1" lengthAdjust="spacingAndGlyphs">400</text>
<rect x="748.70" y="793.30" width="24.00" height="20.10" fill="#c7e2b6" stroke="#333" stroke-width="0.6"/>
<rect x="748.70" y="715.34" width="24.00" height="77.96" fill="#72ad7e" stroke="#333" stroke-width="0.6"/>
<text x="760.7" y="806.048844875" font-size="7.6" text-anchor="middle" font-weight="bold" fill="#111" textLength="22" lengthAdjust="spacingAndGlyphs" stroke="#111" stroke-width="0.2">20.5%</text>
<text x="760.7" y="757.0188198750001" font-size="7.6" text-anchor="middle" font-weight="bold" fill="#111" textLength="22" lengthAdjust="spacingAndGlyphs" stroke="#111" stroke-width="0.2">79.5%</text>
<line x1="760.70" y1="813.40" x2="760.70" y2="817.00" stroke="#5a5a5a" stroke-width="0.8"/>
<text x="760.7" y="829.8" font-size="10.6" text-anchor="middle" fill="#231f20" textLength="19.1" lengthAdjust="spacingAndGlyphs">320</text>
<rect x="802.30" y="797.30" width="23.30" height="16.10" fill="#78a8e6" stroke="#333" stroke-width="0.6"/>
<rect x="802.30" y="692.36" width="23.30" height="104.95" fill="#3f86d8" stroke="#333" stroke-width="0.6"/>
<text x="813.95" y="808.0505740000001" font-size="7.6" text-anchor="middle" font-weight="bold" fill="#111" textLength="22" lengthAdjust="spacingAndGlyphs" stroke="#111" stroke-width="0.2">13.3%</text>
<text x="813.95" y="747.528574" font-size="7.6" text-anchor="middle" font-weight="bold" fill="#111" textLength="22" lengthAdjust="spacingAndGlyphs" stroke="#111" stroke-width="0.2">86.7%</text>
<line x1="813.95" y1="813.40" x2="813.95" y2="817.00" stroke="#5a5a5a" stroke-width="0.8"/>
<text x="813.95" y="829.8" font-size="10.6" text-anchor="middle" fill="#231f20" textLength="19.1" lengthAdjust="spacingAndGlyphs">880</text>
<rect x="831.60" y="800.92" width="23.60" height="12.48" fill="#78a8e6" stroke="#333" stroke-width="0.6"/>
<rect x="831.60" y="693.44" width="23.60" height="107.49" fill="#3f86d8" stroke="#333" stroke-width="0.6"/>
<text x="843.4000000000001" y="809.861911" font-size="7.6" text-anchor="middle" font-weight="bold" fill="#111" textLength="22" lengthAdjust="spacingAndGlyphs" stroke="#111" stroke-width="0.2">10.4%</text>
<text x="843.4000000000001" y="749.8802860000001" font-size="7.6" text-anchor="middle" font-weight="bold" fill="#111" textLength="22" lengthAdjust="spacingAndGlyphs" stroke="#111" stroke-width="0.2">89.6%</text>
<line x1="843.40" y1="813.40" x2="843.40" y2="817.00" stroke="#5a5a5a" stroke-width="0.8"/>
<text x="843.4000000000001" y="829.8" font-size="10.6" text-anchor="middle" fill="#231f20" textLength="19.1" lengthAdjust="spacingAndGlyphs">700</text>
<rect x="861.60" y="803.53" width="23.60" height="9.87" fill="#78a8e6" stroke="#333" stroke-width="0.6"/>
<rect x="861.60" y="697.33" width="23.60" height="106.21" fill="#3f86d8" stroke="#333" stroke-width="0.6"/>
<text x="873.4000000000001" y="811.166916625" font-size="7.6" text-anchor="middle" font-weight="bold" fill="#111" textLength="17.5" lengthAdjust="spacingAndGlyphs" stroke="#111" stroke-width="0.2">8.5%</text>
<text x="873.4000000000001" y="753.130641625" font-size="7.6" text-anchor="middle" font-weight="bold" fill="#111" textLength="22" lengthAdjust="spacingAndGlyphs" stroke="#111" stroke-width="0.2">91.5%</text>
<line x1="873.40" y1="813.40" x2="873.40" y2="817.00" stroke="#5a5a5a" stroke-width="0.8"/>
<text x="873.4000000000001" y="829.8" font-size="10.6" text-anchor="middle" fill="#231f20" textLength="19.1" lengthAdjust="spacingAndGlyphs">590</text>
<rect x="891.50" y="805.42" width="23.30" height="7.98" fill="#78a8e6" stroke="#333" stroke-width="0.6"/>
<rect x="891.50" y="699.42" width="23.30" height="106.00" fill="#3f86d8" stroke="#333" stroke-width="0.6"/>
<text x="903.15" y="812.1105915" font-size="7.6" text-anchor="middle" font-weight="bold" fill="#111" textLength="17.5" lengthAdjust="spacingAndGlyphs" stroke="#111" stroke-width="0.2">7.0%</text>
<text x="903.15" y="755.1190415" font-size="7.6" text-anchor="middle" font-weight="bold" fill="#111" textLength="22" lengthAdjust="spacingAndGlyphs" stroke="#111" stroke-width="0.2">93.0%</text>
<line x1="903.15" y1="813.40" x2="903.15" y2="817.00" stroke="#5a5a5a" stroke-width="0.8"/>
<text x="903.15" y="829.8" font-size="10.6" text-anchor="middle" fill="#231f20" textLength="19.1" lengthAdjust="spacingAndGlyphs">490</text>
<rect x="920.50" y="810.12" width="23.90" height="3.28" fill="#78a8e6" stroke="#333" stroke-width="0.6"/>
<rect x="920.50" y="704.03" width="23.90" height="106.09" fill="#3f86d8" stroke="#333" stroke-width="0.6"/>
<text x="932.45" y="807.6" font-size="7.6" text-anchor="middle" font-weight="bold" fill="#111" textLength="17.5" lengthAdjust="spacingAndGlyphs" stroke="#111" stroke-width="0.2">3.0%</text>
<text x="932.45" y="759.7734715" font-size="7.6" text-anchor="middle" font-weight="bold" fill="#111" textLength="22" lengthAdjust="spacingAndGlyphs" stroke="#111" stroke-width="0.2">97.0%</text>
<line x1="932.45" y1="813.40" x2="932.45" y2="817.00" stroke="#5a5a5a" stroke-width="0.8"/>
<text x="932.45" y="829.8" font-size="10.6" text-anchor="middle" fill="#231f20" textLength="19.1" lengthAdjust="spacingAndGlyphs">220</text>
<rect x="950.40" y="810.35" width="24.00" height="3.05" fill="#78a8e6" stroke="#333" stroke-width="0.6"/>
<rect x="950.40" y="704.39" width="24.00" height="105.96" fill="#3f86d8" stroke="#333" stroke-width="0.6"/>
<text x="962.4" y="807.6" font-size="7.6" text-anchor="middle" font-weight="bold" fill="#111" textLength="17.5" lengthAdjust="spacingAndGlyphs" stroke="#111" stroke-width="0.2">2.8%</text>
<text x="962.4" y="760.0680119" font-size="7.6" text-anchor="middle" font-weight="bold" fill="#111" textLength="22" lengthAdjust="spacingAndGlyphs" stroke="#111" stroke-width="0.2">97.2%</text>
<line x1="962.40" y1="813.40" x2="962.40" y2="817.00" stroke="#5a5a5a" stroke-width="0.8"/>
<text x="962.4" y="829.8" font-size="10.6" text-anchor="middle" fill="#231f20" textLength="19.1" lengthAdjust="spacingAndGlyphs">200</text>
<rect x="383.20" y="633.30" width="606.00" height="180.10" fill="none" stroke="#5a5a5a" stroke-width="1"/>
<line x1="585.10" y1="633.30" x2="585.10" y2="813.40" stroke="#5a5a5a" stroke-width="1"/>
<line x1="787.50" y1="633.30" x2="787.50" y2="813.40" stroke="#5a5a5a" stroke-width="1"/>
<line x1="383.20" y1="813.40" x2="386.80" y2="813.40" stroke="#5a5a5a" stroke-width="0.9"/>
<text x="377.2" y="817.5" font-size="10.6" text-anchor="end" fill="#231f20" textLength="6.37" lengthAdjust="spacingAndGlyphs">0</text>
<line x1="383.20" y1="777.38" x2="386.80" y2="777.38" stroke="#5a5a5a" stroke-width="0.9"/>
<text x="377.2" y="781.475" font-size="10.6" text-anchor="end" fill="#231f20" textLength="15.91" lengthAdjust="spacingAndGlyphs">0.5</text>
<line x1="383.20" y1="741.35" x2="386.80" y2="741.35" stroke="#5a5a5a" stroke-width="0.9"/>
<text x="377.2" y="745.45" font-size="10.6" text-anchor="end" fill="#231f20" textLength="15.91" lengthAdjust="spacingAndGlyphs">1.0</text>
<line x1="383.20" y1="705.33" x2="386.80" y2="705.33" stroke="#5a5a5a" stroke-width="0.9"/>
<text x="377.2" y="709.4250000000001" font-size="10.6" text-anchor="end" fill="#231f20" textLength="15.91" lengthAdjust="spacingAndGlyphs">1.5</text>
<line x1="383.20" y1="669.30" x2="386.80" y2="669.30" stroke="#5a5a5a" stroke-width="0.9"/>
<text x="377.2" y="673.4" font-size="10.6" text-anchor="end" fill="#231f20" textLength="15.91" lengthAdjust="spacingAndGlyphs">2.0</text>
<line x1="383.20" y1="633.27" x2="386.80" y2="633.27" stroke="#5a5a5a" stroke-width="0.9"/>
<text x="377.2" y="637.375" font-size="10.6" text-anchor="end" fill="#231f20" textLength="15.91" lengthAdjust="spacingAndGlyphs">2.5</text>
<text x="380.9" y="627.2" font-size="11" fill="#231f20">×10<tspan font-size="7.5" dy="-4">−5</tspan></text>
<text x="429.3" y="624.8" font-size="11.5" fill="#231f20" textLength="110.7" lengthAdjust="spacingAndGlyphs">Pre-baking at 80 °C</text>
<text x="631.5" y="625" font-size="11.5" fill="#231f20" textLength="110.9" lengthAdjust="spacingAndGlyphs">Pre-baking at 115 °C</text>
<text x="830.5" y="625" font-size="11.5" fill="#231f20" textLength="115.7" lengthAdjust="spacingAndGlyphs">Pre-baking at 150 °C</text>
<text transform="translate(345.5,722.8) rotate(-90)" font-size="12.3" text-anchor="middle" fill="#231f20" textLength="175.4" lengthAdjust="spacingAndGlyphs">Apparent diffusion rate (m s<tspan font-size="7.5" dy="-4">−1/2</tspan><tspan dy="4">)</tspan></text>
<text x="685.5" y="848.9" font-size="11.5" text-anchor="middle" fill="#231f20" textLength="87.5" lengthAdjust="spacingAndGlyphs">Thickness (μm)</text>
<rect x="484.20" y="637.30" width="11.20" height="10.90" fill="#f46b6b" stroke="#777" stroke-width="0.5"/>
<rect x="484.20" y="653.60" width="11.20" height="10.90" fill="#f2c5bd" stroke="#777" stroke-width="0.5"/>
<text x="501.1" y="645.8" font-size="10" fill="#231f20" textLength="79.5" lengthAdjust="spacingAndGlyphs">Interface diffusion</text>
<text x="501.1" y="661.8000000000001" font-size="10" fill="#231f20" textLength="58.3" lengthAdjust="spacingAndGlyphs">Bulk diffusion</text>
<rect x="687.00" y="637.30" width="11.20" height="10.90" fill="#72ad7e" stroke="#777" stroke-width="0.5"/>
<rect x="687.00" y="654.20" width="11.20" height="10.90" fill="#c7e2b6" stroke="#777" stroke-width="0.5"/>
<text x="704" y="645.8" font-size="10" fill="#231f20" textLength="79.5" lengthAdjust="spacingAndGlyphs">Interface diffusion</text>
<text x="704" y="662.4000000000001" font-size="10" fill="#231f20" textLength="58.3" lengthAdjust="spacingAndGlyphs">Bulk diffusion</text>
<rect x="889.00" y="636.30" width="11.20" height="10.90" fill="#3f86d8" stroke="#777" stroke-width="0.5"/>
<rect x="889.00" y="652.10" width="11.20" height="10.90" fill="#78a8e6" stroke="#777" stroke-width="0.5"/>
<text x="906.3" y="644.8" font-size="10" fill="#231f20" textLength="79.5" lengthAdjust="spacingAndGlyphs">Interface diffusion</text>
<text x="906.3" y="660.3000000000001" font-size="10" fill="#231f20" textLength="58.3" lengthAdjust="spacingAndGlyphs">Bulk diffusion</text>
<text x="14" y="876.40" style='font-family:"Liberation Serif", serif' font-size="15.5" fill="#231f20" word-spacing="-1.5" stroke="#231f20" stroke-width="0.2" textLength="443.5" lengthAdjust="spacingAndGlyphs"><tspan font-weight="bold">Fig. 4 | Mechanisms of lateral diffusion of water vapour. a</tspan>, Schematic of 2D</text>
<text x="14" y="894.89" style='font-family:"Liberation Serif", serif' font-size="15.5" fill="#231f20" word-spacing="-1.5" stroke="#231f20" stroke-width="0.2" textLength="456.0" lengthAdjust="spacingAndGlyphs">diffusion of water vapour. Three-dimensional schematic diagram (top) and 2D</text>
<text x="14" y="913.38" style='font-family:"Liberation Serif", serif' font-size="15.5" fill="#231f20" word-spacing="-1.5" stroke="#231f20" stroke-width="0.2" textLength="441.0" lengthAdjust="spacingAndGlyphs">plan schematic diagram (bottom). <tspan font-style="italic">D</tspan><tspan font-size="8.8" dy="3.2">0</tspan><tspan dy="-3.2"> represents the distance from the edge</tspan></text>
<text x="14" y="931.87" style='font-family:"Liberation Serif", serif' font-size="15.5" fill="#231f20" word-spacing="-1.5" stroke="#231f20" stroke-width="0.2" textLength="475.0" lengthAdjust="spacingAndGlyphs">when the square calcium film is corroded by water into a circular shape. <tspan font-weight="bold">b</tspan>, Optical</text>
<text x="14" y="950.36" style='font-family:"Liberation Serif", serif' font-size="15.5" fill="#231f20" word-spacing="-1.5" stroke="#231f20" stroke-width="0.2" textLength="468.5" lengthAdjust="spacingAndGlyphs">photographs of calcium corrosion and finite element simulation results of water</text>
<text x="14" y="968.85" style='font-family:"Liberation Serif", serif' font-size="15.5" fill="#231f20" word-spacing="-1.5" stroke="#231f20" stroke-width="0.2" textLength="448.5" lengthAdjust="spacingAndGlyphs">vapour diffusion. The colour scale bar indicates the relative concentration of</text>
<text x="14" y="987.34" style='font-family:"Liberation Serif", serif' font-size="15.5" fill="#231f20" word-spacing="-1.5" stroke="#231f20" stroke-width="0.2" textLength="436.0" lengthAdjust="spacingAndGlyphs">water vapour. <tspan font-weight="bold">c</tspan>, Plots of the calcium corrosion displacement versus square</text>
<text x="14" y="1005.83" style='font-family:"Liberation Serif", serif' font-size="15.5" fill="#231f20" word-spacing="-1.5" stroke="#231f20" stroke-width="0.2" textLength="461.0" lengthAdjust="spacingAndGlyphs">root of ageing time for the experiment (blue colour) and simulated (red colour)</text>
<text x="14" y="1024.32" style='font-family:"Liberation Serif", serif' font-size="15.5" fill="#231f20" word-spacing="-1.5" stroke="#231f20" stroke-width="0.2" textLength="443.5" lengthAdjust="spacingAndGlyphs">results. The curves are obtained by segmented linear fitting. The formulas</text>
<text x="14" y="1042.81" style='font-family:"Liberation Serif", serif' font-size="15.5" fill="#231f20" word-spacing="-1.5" stroke="#231f20" stroke-width="0.2" textLength="471.0" lengthAdjust="spacingAndGlyphs">describe the linear relationship between displacement and square root of ageing</text>
<text x="14" y="1061.30" style='font-family:"Liberation Serif", serif' font-size="15.5" fill="#231f20" word-spacing="-1.5" stroke="#231f20" stroke-width="0.2" textLength="456.0" lengthAdjust="spacingAndGlyphs">time. <tspan font-style="italic">K</tspan><tspan font-size="8.8" dy="3.2">diag</tspan><tspan dy="-3.2"> represents the apparent diffusion coefficient for diagonal diffusion.</tspan></text>
<text x="14" y="1079.79" style='font-family:"Liberation Serif", serif' font-size="15.5" fill="#231f20" word-spacing="-1.5" stroke="#231f20" stroke-width="0.2" textLength="473.5" lengthAdjust="spacingAndGlyphs"><tspan font-style="italic">K</tspan><tspan font-size="8.8" dy="3.2">edge</tspan><tspan dy="-3.2"> represents the apparent diffusion coefficient for edge diffusion. <tspan font-style="italic">t</tspan> represents</tspan></text>
<text x="512" y="876.40" style='font-family:"Liberation Serif", serif' font-size="15.5" fill="#231f20" word-spacing="-1.5" stroke="#231f20" stroke-width="0.2" textLength="454.0" lengthAdjust="spacingAndGlyphs">the diffusion time. <tspan font-weight="bold">d</tspan>, Schematic diagram of a 1D water vapour lateral diffusion</text>
<text x="512" y="894.89" style='font-family:"Liberation Serif", serif' font-size="15.5" fill="#231f20" word-spacing="-1.5" stroke="#231f20" stroke-width="0.2" textLength="475.0" lengthAdjust="spacingAndGlyphs">model. <tspan font-style="italic">h</tspan><tspan font-size="8.8" dy="3.2">A</tspan><tspan dy="-3.2"> represents the thickness of the adhesive layer, </tspan><tspan font-style="italic">h</tspan><tspan font-size="8.8" dy="3.2">I</tspan><tspan dy="-3.2"> represents the average</tspan></text>
<text x="512" y="913.38" style='font-family:"Liberation Serif", serif' font-size="15.5" fill="#231f20" word-spacing="-1.5" stroke="#231f20" stroke-width="0.2" textLength="438.5" lengthAdjust="spacingAndGlyphs">effective thickness of water-permeable channels formed at the interface by</text>
<text x="512" y="931.87" style='font-family:"Liberation Serif", serif' font-size="15.5" fill="#231f20" word-spacing="-1.5" stroke="#231f20" stroke-width="0.2" textLength="442.5" lengthAdjust="spacingAndGlyphs">the defects at the imperfect adhesive/substrate interface. <tspan font-style="italic">h</tspan><tspan font-size="8.8" dy="3.2">Ca</tspan><tspan dy="-3.2"> represents the</tspan></text>
<text x="512" y="950.36" style='font-family:"Liberation Serif", serif' font-size="15.5" fill="#231f20" word-spacing="-1.5" stroke="#231f20" stroke-width="0.2" textLength="445.0" lengthAdjust="spacingAndGlyphs">thickness of the calcium film. <tspan font-style="italic">L</tspan><tspan font-size="8.8" dy="3.2">0</tspan><tspan dy="-3.2"> represents the initial distance from the edge</tspan></text>
<text x="512" y="968.85" style='font-family:"Liberation Serif", serif' font-size="15.5" fill="#231f20" word-spacing="-1.5" stroke="#231f20" stroke-width="0.2" textLength="437.5" lengthAdjust="spacingAndGlyphs">of the calcium film to the edge of the encapsulation layer. <tspan font-style="italic">ΔL</tspan> represents the</text>
<text x="512" y="987.34" style='font-family:"Liberation Serif", serif' font-size="15.5" fill="#231f20" word-spacing="-1.5" stroke="#231f20" stroke-width="0.2" textLength="466.0" lengthAdjust="spacingAndGlyphs">displacement of the calcium film. <tspan font-weight="bold">e</tspan>, Thermogravimetric curves of butyl rubbers</text>
<text x="512" y="1005.83" style='font-family:"Liberation Serif", serif' font-size="15.5" fill="#231f20" word-spacing="-1.5" stroke="#231f20" stroke-width="0.2" textLength="455.0" lengthAdjust="spacingAndGlyphs">pre-baked at different temperatures. <tspan font-style="italic">T</tspan> represents temperature. <tspan font-weight="bold">f</tspan>, Adhesion of</text>
<text x="512" y="1024.32" style='font-family:"Liberation Serif", serif' font-size="15.5" fill="#231f20" word-spacing="-1.5" stroke="#231f20" stroke-width="0.2" textLength="462.5" lengthAdjust="spacingAndGlyphs">ABT encapsulants pre-baked at different temperatures. <tspan font-weight="bold">g</tspan>, Variation of apparent</text>
<text x="512" y="1042.81" style='font-family:"Liberation Serif", serif' font-size="15.5" fill="#231f20" word-spacing="-1.5" stroke="#231f20" stroke-width="0.2" textLength="462.5" lengthAdjust="spacingAndGlyphs">water permeation rate <tspan font-style="italic">K</tspan> with the thickness of butyl rubber, fitted with equation</text>
<text x="512" y="1061.30" style='font-family:"Liberation Serif", serif' font-size="15.5" fill="#231f20" word-spacing="-1.5" stroke="#231f20" stroke-width="0.2" textLength="426.2" lengthAdjust="spacingAndGlyphs"><tspan fill="#1a7bb8">(9)</tspan>. <tspan font-weight="bold">h</tspan>, Apparent diffusion rate <tspan font-style="italic">K</tspan> at different adhesion forces and different</text>
<text x="512" y="1079.79" style='font-family:"Liberation Serif", serif' font-size="15.5" fill="#231f20" word-spacing="-1.5" stroke="#231f20" stroke-width="0.2" textLength="426.5" lengthAdjust="spacingAndGlyphs">thicknesses, and the percentage of bulk diffusion and interface diffusion.</text>
<text x="903.4" y="1058.8" style='font-family:"Liberation Mono", monospace' font-size="14.2" font-weight="bold" fill="#f76b12" textLength="79.7" lengthAdjust="spacingAndGlyphs">SOLARZOOM</text>

</svg>
</body></html>
